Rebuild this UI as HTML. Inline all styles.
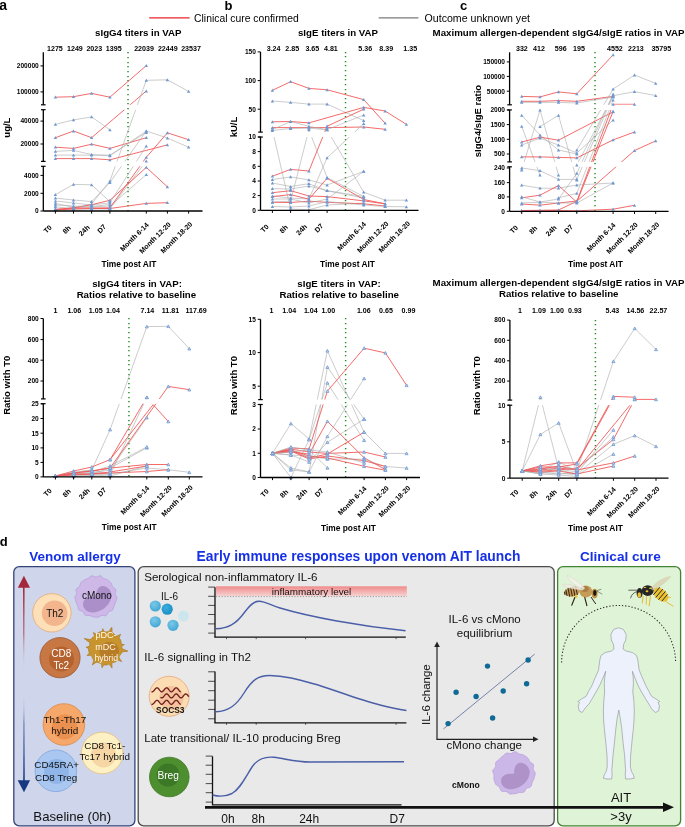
<!DOCTYPE html>
<html><head><meta charset="utf-8"><style>
html,body{margin:0;padding:0;background:#fff;width:685px;height:827px;overflow:hidden}
svg{display:block;will-change:transform}
text{font-family:"Liberation Sans",sans-serif}
</style></head><body>
<svg width="685" height="827" viewBox="0 0 685 827">
<rect width="685" height="827" fill="#fff"/>
<clipPath id="c1"><rect x="41.3" y="32.30" width="169.2" height="72.50"/><rect x="41.3" y="109.70" width="169.2" height="51.70"/><rect x="41.3" y="166.30" width="169.2" height="52.70"/></clipPath>
<path d="M127.30,52.0h1.45v1.3h-1.45zM127.30,57.0h1.45v1.3h-1.45zM127.30,62.0h1.45v1.3h-1.45zM127.30,66.0h1.45v1.3h-1.45zM127.30,71.0h1.45v1.3h-1.45zM127.30,76.0h1.45v1.3h-1.45zM127.30,80.0h1.45v1.3h-1.45zM127.30,85.0h1.45v1.3h-1.45zM127.30,89.0h1.45v1.3h-1.45zM127.30,94.0h1.45v1.3h-1.45zM127.30,99.0h1.45v1.3h-1.45zM127.30,103.0h1.45v1.3h-1.45zM127.30,108.0h1.45v1.3h-1.45zM127.30,113.0h1.45v1.3h-1.45zM127.30,117.0h1.45v1.3h-1.45zM127.30,122.0h1.45v1.3h-1.45zM127.30,126.0h1.45v1.3h-1.45zM127.30,131.0h1.45v1.3h-1.45zM127.30,136.0h1.45v1.3h-1.45zM127.30,140.0h1.45v1.3h-1.45zM127.30,145.0h1.45v1.3h-1.45zM127.30,150.0h1.45v1.3h-1.45zM127.30,154.0h1.45v1.3h-1.45zM127.30,159.0h1.45v1.3h-1.45zM127.30,164.0h1.45v1.3h-1.45zM127.30,168.0h1.45v1.3h-1.45zM127.30,173.0h1.45v1.3h-1.45zM127.30,177.0h1.45v1.3h-1.45zM127.30,182.0h1.45v1.3h-1.45zM127.30,187.0h1.45v1.3h-1.45zM127.30,191.0h1.45v1.3h-1.45zM127.30,196.0h1.45v1.3h-1.45zM127.30,201.0h1.45v1.3h-1.45zM127.30,205.0h1.45v1.3h-1.45zM127.30,210.0h1.45v1.3h-1.45z" fill="#1e8e1e"/>
<g clip-path="url(#c1)" fill="none">
<path d="M55.40,97.20L73.50,96.70L91.60,93.40L109.90,97.20L146.30,65.60" stroke="#f25a5a" stroke-width="0.9"/>
<path d="M55.40,137.70L73.50,131.00L91.60,137.70L146.30,91.00" stroke="#f25a5a" stroke-width="0.9"/>
<path d="M55.40,124.30L73.50,119.90L91.60,116.90L109.90,129.80" stroke="#a9a9a9" stroke-width="0.6"/>
<path d="M55.40,147.20L73.50,148.40L91.60,144.20L109.90,148.40L146.30,137.70" stroke="#f25a5a" stroke-width="0.9"/>
<path d="M55.40,151.40L73.50,150.40L91.60,154.60L109.90,155.80L146.30,131.00L167.40,138.00L188.60,147.20" stroke="#a9a9a9" stroke-width="0.6"/>
<path d="M55.40,155.10L73.50,155.10L91.60,155.10L109.90,155.10L146.30,132.50" stroke="#a9a9a9" stroke-width="0.6"/>
<path d="M55.40,158.60L73.50,158.60L91.60,158.60L109.90,159.80L167.40,144.90" stroke="#f25a5a" stroke-width="0.9"/>
<path d="M55.40,194.70L73.50,184.40L91.60,184.80L109.90,201.60" stroke="#a9a9a9" stroke-width="0.6"/>
<path d="M55.40,198.10L73.50,200.00L91.60,201.60L109.90,182.60L146.30,131.00" stroke="#a9a9a9" stroke-width="0.6"/>
<path d="M55.40,206.90L73.50,208.40L91.60,204.00L109.90,181.00L146.30,80.30L167.40,79.80L188.60,91.40" stroke="#a9a9a9" stroke-width="0.6"/>
<path d="M55.40,201.00L73.50,203.00L91.60,205.00L109.90,202.80L146.30,146.00" stroke="#a9a9a9" stroke-width="0.6"/>
<path d="M55.40,203.40L73.50,207.20L91.60,207.00L109.90,206.00L146.30,174.60" stroke="#a9a9a9" stroke-width="0.6"/>
<path d="M55.40,209.00L73.50,209.00L91.60,209.00L109.90,209.00L146.30,161.00" stroke="#a9a9a9" stroke-width="0.6"/>
<path d="M55.40,209.60L73.50,208.00L91.60,208.00L109.90,207.80L146.30,157.30L167.40,132.80L188.60,139.70" stroke="#f25a5a" stroke-width="0.9"/>
<path d="M55.40,209.60L73.50,207.80L91.60,204.70L109.90,200.30L146.30,167.40L167.40,186.80" stroke="#f25a5a" stroke-width="0.9"/>
<path d="M55.40,210.00L73.50,209.00L91.60,208.50L109.90,208.50L146.30,203.40L167.40,202.70" stroke="#f25a5a" stroke-width="0.9"/>
<path d="M55.40,205.00L73.50,206.00L91.60,206.50L109.90,204.50" stroke="#a9a9a9" stroke-width="0.6"/>
</g>
<path d="M53.70,98.60L55.40,95.60L57.10,98.60Z" fill="#7099d2"/>
<path d="M71.80,98.10L73.50,95.10L75.20,98.10Z" fill="#7099d2"/>
<path d="M89.90,94.80L91.60,91.80L93.30,94.80Z" fill="#7099d2"/>
<path d="M108.20,98.60L109.90,95.60L111.60,98.60Z" fill="#7099d2"/>
<path d="M144.60,67.00L146.30,64.00L148.00,67.00Z" fill="#7099d2"/>
<path d="M53.70,139.10L55.40,136.10L57.10,139.10Z" fill="#7099d2"/>
<path d="M71.80,132.40L73.50,129.40L75.20,132.40Z" fill="#7099d2"/>
<path d="M89.90,139.10L91.60,136.10L93.30,139.10Z" fill="#7099d2"/>
<path d="M144.60,92.40L146.30,89.40L148.00,92.40Z" fill="#7099d2"/>
<path d="M53.70,125.70L55.40,122.70L57.10,125.70Z" fill="#7099d2"/>
<path d="M71.80,121.30L73.50,118.30L75.20,121.30Z" fill="#7099d2"/>
<path d="M89.90,118.30L91.60,115.30L93.30,118.30Z" fill="#7099d2"/>
<path d="M108.20,131.20L109.90,128.20L111.60,131.20Z" fill="#7099d2"/>
<path d="M53.70,148.60L55.40,145.60L57.10,148.60Z" fill="#7099d2"/>
<path d="M71.80,149.80L73.50,146.80L75.20,149.80Z" fill="#7099d2"/>
<path d="M89.90,145.60L91.60,142.60L93.30,145.60Z" fill="#7099d2"/>
<path d="M108.20,149.80L109.90,146.80L111.60,149.80Z" fill="#7099d2"/>
<path d="M144.60,139.10L146.30,136.10L148.00,139.10Z" fill="#7099d2"/>
<path d="M53.70,152.80L55.40,149.80L57.10,152.80Z" fill="#7099d2"/>
<path d="M71.80,151.80L73.50,148.80L75.20,151.80Z" fill="#7099d2"/>
<path d="M89.90,156.00L91.60,153.00L93.30,156.00Z" fill="#7099d2"/>
<path d="M108.20,157.20L109.90,154.20L111.60,157.20Z" fill="#7099d2"/>
<path d="M144.60,132.40L146.30,129.40L148.00,132.40Z" fill="#7099d2"/>
<path d="M165.70,139.40L167.40,136.40L169.10,139.40Z" fill="#7099d2"/>
<path d="M186.90,148.60L188.60,145.60L190.30,148.60Z" fill="#7099d2"/>
<path d="M53.70,156.50L55.40,153.50L57.10,156.50Z" fill="#7099d2"/>
<path d="M71.80,156.50L73.50,153.50L75.20,156.50Z" fill="#7099d2"/>
<path d="M89.90,156.50L91.60,153.50L93.30,156.50Z" fill="#7099d2"/>
<path d="M108.20,156.50L109.90,153.50L111.60,156.50Z" fill="#7099d2"/>
<path d="M144.60,133.90L146.30,130.90L148.00,133.90Z" fill="#7099d2"/>
<path d="M53.70,160.00L55.40,157.00L57.10,160.00Z" fill="#7099d2"/>
<path d="M71.80,160.00L73.50,157.00L75.20,160.00Z" fill="#7099d2"/>
<path d="M89.90,160.00L91.60,157.00L93.30,160.00Z" fill="#7099d2"/>
<path d="M108.20,161.20L109.90,158.20L111.60,161.20Z" fill="#7099d2"/>
<path d="M165.70,146.30L167.40,143.30L169.10,146.30Z" fill="#7099d2"/>
<path d="M53.70,196.10L55.40,193.10L57.10,196.10Z" fill="#7099d2"/>
<path d="M71.80,185.80L73.50,182.80L75.20,185.80Z" fill="#7099d2"/>
<path d="M89.90,186.20L91.60,183.20L93.30,186.20Z" fill="#7099d2"/>
<path d="M108.20,203.00L109.90,200.00L111.60,203.00Z" fill="#7099d2"/>
<path d="M53.70,199.50L55.40,196.50L57.10,199.50Z" fill="#7099d2"/>
<path d="M71.80,201.40L73.50,198.40L75.20,201.40Z" fill="#7099d2"/>
<path d="M89.90,203.00L91.60,200.00L93.30,203.00Z" fill="#7099d2"/>
<path d="M108.20,184.00L109.90,181.00L111.60,184.00Z" fill="#7099d2"/>
<path d="M144.60,132.40L146.30,129.40L148.00,132.40Z" fill="#7099d2"/>
<path d="M53.70,208.30L55.40,205.30L57.10,208.30Z" fill="#7099d2"/>
<path d="M71.80,209.80L73.50,206.80L75.20,209.80Z" fill="#7099d2"/>
<path d="M89.90,205.40L91.60,202.40L93.30,205.40Z" fill="#7099d2"/>
<path d="M108.20,182.40L109.90,179.40L111.60,182.40Z" fill="#7099d2"/>
<path d="M144.60,81.70L146.30,78.70L148.00,81.70Z" fill="#7099d2"/>
<path d="M165.70,81.20L167.40,78.20L169.10,81.20Z" fill="#7099d2"/>
<path d="M186.90,92.80L188.60,89.80L190.30,92.80Z" fill="#7099d2"/>
<path d="M53.70,202.40L55.40,199.40L57.10,202.40Z" fill="#7099d2"/>
<path d="M71.80,204.40L73.50,201.40L75.20,204.40Z" fill="#7099d2"/>
<path d="M89.90,206.40L91.60,203.40L93.30,206.40Z" fill="#7099d2"/>
<path d="M108.20,204.20L109.90,201.20L111.60,204.20Z" fill="#7099d2"/>
<path d="M144.60,147.40L146.30,144.40L148.00,147.40Z" fill="#7099d2"/>
<path d="M53.70,204.80L55.40,201.80L57.10,204.80Z" fill="#7099d2"/>
<path d="M71.80,208.60L73.50,205.60L75.20,208.60Z" fill="#7099d2"/>
<path d="M89.90,208.40L91.60,205.40L93.30,208.40Z" fill="#7099d2"/>
<path d="M108.20,207.40L109.90,204.40L111.60,207.40Z" fill="#7099d2"/>
<path d="M144.60,176.00L146.30,173.00L148.00,176.00Z" fill="#7099d2"/>
<path d="M53.70,210.40L55.40,207.40L57.10,210.40Z" fill="#7099d2"/>
<path d="M71.80,210.40L73.50,207.40L75.20,210.40Z" fill="#7099d2"/>
<path d="M89.90,210.40L91.60,207.40L93.30,210.40Z" fill="#7099d2"/>
<path d="M108.20,210.40L109.90,207.40L111.60,210.40Z" fill="#7099d2"/>
<path d="M144.60,162.40L146.30,159.40L148.00,162.40Z" fill="#7099d2"/>
<path d="M53.70,211.00L55.40,208.00L57.10,211.00Z" fill="#7099d2"/>
<path d="M71.80,209.40L73.50,206.40L75.20,209.40Z" fill="#7099d2"/>
<path d="M89.90,209.40L91.60,206.40L93.30,209.40Z" fill="#7099d2"/>
<path d="M108.20,209.20L109.90,206.20L111.60,209.20Z" fill="#7099d2"/>
<path d="M144.60,158.70L146.30,155.70L148.00,158.70Z" fill="#7099d2"/>
<path d="M165.70,134.20L167.40,131.20L169.10,134.20Z" fill="#7099d2"/>
<path d="M186.90,141.10L188.60,138.10L190.30,141.10Z" fill="#7099d2"/>
<path d="M53.70,211.00L55.40,208.00L57.10,211.00Z" fill="#7099d2"/>
<path d="M71.80,209.20L73.50,206.20L75.20,209.20Z" fill="#7099d2"/>
<path d="M89.90,206.10L91.60,203.10L93.30,206.10Z" fill="#7099d2"/>
<path d="M108.20,201.70L109.90,198.70L111.60,201.70Z" fill="#7099d2"/>
<path d="M144.60,168.80L146.30,165.80L148.00,168.80Z" fill="#7099d2"/>
<path d="M165.70,188.20L167.40,185.20L169.10,188.20Z" fill="#7099d2"/>
<path d="M53.70,211.40L55.40,208.40L57.10,211.40Z" fill="#7099d2"/>
<path d="M71.80,210.40L73.50,207.40L75.20,210.40Z" fill="#7099d2"/>
<path d="M89.90,209.90L91.60,206.90L93.30,209.90Z" fill="#7099d2"/>
<path d="M108.20,209.90L109.90,206.90L111.60,209.90Z" fill="#7099d2"/>
<path d="M144.60,204.80L146.30,201.80L148.00,204.80Z" fill="#7099d2"/>
<path d="M165.70,204.10L167.40,201.10L169.10,204.10Z" fill="#7099d2"/>
<path d="M53.70,206.40L55.40,203.40L57.10,206.40Z" fill="#7099d2"/>
<path d="M71.80,207.40L73.50,204.40L75.20,207.40Z" fill="#7099d2"/>
<path d="M89.90,207.90L91.60,204.90L93.30,207.90Z" fill="#7099d2"/>
<path d="M108.20,205.90L109.90,202.90L111.60,205.90Z" fill="#7099d2"/>
<line x1="43.3" y1="52.3" x2="43.3" y2="104.8" stroke="#000" stroke-width="1.3"/>
<line x1="43.3" y1="109.7" x2="43.3" y2="161.4" stroke="#000" stroke-width="1.3"/>
<line x1="43.3" y1="166.3" x2="43.3" y2="211" stroke="#000" stroke-width="1.3"/>
<line x1="41.0" y1="104.8" x2="45.599999999999994" y2="104.8" stroke="#000" stroke-width="1.2"/>
<line x1="41.0" y1="109.7" x2="45.599999999999994" y2="109.7" stroke="#000" stroke-width="1.2"/>
<line x1="41.0" y1="161.4" x2="45.599999999999994" y2="161.4" stroke="#000" stroke-width="1.2"/>
<line x1="41.0" y1="166.3" x2="45.599999999999994" y2="166.3" stroke="#000" stroke-width="1.2"/>
<line x1="43.3" y1="211" x2="202.5" y2="211" stroke="#000" stroke-width="1.3"/>
<line x1="55.4" y1="211" x2="55.4" y2="213.6" stroke="#000" stroke-width="1"/>
<line x1="73.5" y1="211" x2="73.5" y2="213.6" stroke="#000" stroke-width="1"/>
<line x1="91.6" y1="211" x2="91.6" y2="213.6" stroke="#000" stroke-width="1"/>
<line x1="109.9" y1="211" x2="109.9" y2="213.6" stroke="#000" stroke-width="1"/>
<line x1="146.3" y1="211" x2="146.3" y2="213.6" stroke="#000" stroke-width="1"/>
<line x1="167.4" y1="211" x2="167.4" y2="213.6" stroke="#000" stroke-width="1"/>
<line x1="188.6" y1="211" x2="188.6" y2="213.6" stroke="#000" stroke-width="1"/>
<line x1="40.5" y1="65.9" x2="43.3" y2="65.9" stroke="#000" stroke-width="1"/>
<text x="38.70" y="68.20" font-size="6.55" font-weight="bold" text-anchor="end" fill="#000" >200000</text>
<line x1="40.5" y1="91.9" x2="43.3" y2="91.9" stroke="#000" stroke-width="1"/>
<text x="38.70" y="94.20" font-size="6.55" font-weight="bold" text-anchor="end" fill="#000" >100000</text>
<line x1="40.5" y1="121.1" x2="43.3" y2="121.1" stroke="#000" stroke-width="1"/>
<text x="38.70" y="123.40" font-size="6.55" font-weight="bold" text-anchor="end" fill="#000" >40000</text>
<line x1="40.5" y1="144" x2="43.3" y2="144" stroke="#000" stroke-width="1"/>
<text x="38.70" y="146.30" font-size="6.55" font-weight="bold" text-anchor="end" fill="#000" >20000</text>
<line x1="40.5" y1="175.4" x2="43.3" y2="175.4" stroke="#000" stroke-width="1"/>
<text x="38.70" y="177.70" font-size="6.55" font-weight="bold" text-anchor="end" fill="#000" >4000</text>
<line x1="40.5" y1="193.3" x2="43.3" y2="193.3" stroke="#000" stroke-width="1"/>
<text x="38.70" y="195.60" font-size="6.55" font-weight="bold" text-anchor="end" fill="#000" >2000</text>
<line x1="40.5" y1="211" x2="43.3" y2="211" stroke="#000" stroke-width="1"/>
<text x="38.70" y="213.30" font-size="6.55" font-weight="bold" text-anchor="end" fill="#000" >0</text>
<text x="52.30" y="227.90" font-size="7.05" font-weight="bold" text-anchor="end" fill="#000" transform="rotate(-45 52.30 227.90)">T0</text>
<text x="71.30" y="228.50" font-size="7.05" font-weight="bold" text-anchor="end" fill="#000" transform="rotate(-45 71.30 228.50)">8h</text>
<text x="90.20" y="227.90" font-size="7.05" font-weight="bold" text-anchor="end" fill="#000" transform="rotate(-45 90.20 227.90)">24h</text>
<text x="106.60" y="227.30" font-size="7.05" font-weight="bold" text-anchor="end" fill="#000" transform="rotate(-45 106.60 227.30)">D7</text>
<text x="149.20" y="225.40" font-size="7.05" font-weight="bold" text-anchor="end" fill="#000" transform="rotate(-45 149.20 225.40)">Month 6-14</text>
<text x="171.30" y="224.90" font-size="7.05" font-weight="bold" text-anchor="end" fill="#000" transform="rotate(-45 171.30 224.90)">Month 12-20</text>
<text x="192.70" y="224.60" font-size="7.05" font-weight="bold" text-anchor="end" fill="#000" transform="rotate(-45 192.70 224.60)">Month 18-20</text>
<text x="54.90" y="50.70" font-size="7.1" font-weight="bold" text-anchor="middle" fill="#000" >1275</text>
<text x="74.90" y="50.70" font-size="7.1" font-weight="bold" text-anchor="middle" fill="#000" >1249</text>
<text x="94.30" y="50.70" font-size="7.1" font-weight="bold" text-anchor="middle" fill="#000" >2023</text>
<text x="113.70" y="50.70" font-size="7.1" font-weight="bold" text-anchor="middle" fill="#000" >1395</text>
<text x="144.00" y="50.70" font-size="7.1" font-weight="bold" text-anchor="middle" fill="#000" >22039</text>
<text x="167.80" y="50.70" font-size="7.1" font-weight="bold" text-anchor="middle" fill="#000" >22449</text>
<text x="191.00" y="50.70" font-size="7.1" font-weight="bold" text-anchor="middle" fill="#000" >23537</text>
<text x="138.30" y="36.10" font-size="9.7" font-weight="bold" text-anchor="middle" fill="#000" >sIgG4 titers in VAP</text>
<text x="128.90" y="267.00" font-size="8.4" font-weight="bold" text-anchor="middle" fill="#000" >Time post AIT</text>
<text x="10.50" y="127.60" font-size="9.5" font-weight="bold" text-anchor="middle" fill="#000" transform="rotate(-90 10.5 127.6)">ug/L</text>
<clipPath id="c2"><rect x="258.5" y="31.90" width="168.0" height="100.20"/><rect x="258.5" y="137.00" width="168.0" height="81.30"/></clipPath>
<path d="M344.80,52.0h1.45v1.3h-1.45zM344.80,56.0h1.45v1.3h-1.45zM344.80,61.0h1.45v1.3h-1.45zM344.80,65.0h1.45v1.3h-1.45zM344.80,70.0h1.45v1.3h-1.45zM344.80,75.0h1.45v1.3h-1.45zM344.80,79.0h1.45v1.3h-1.45zM344.80,84.0h1.45v1.3h-1.45zM344.80,89.0h1.45v1.3h-1.45zM344.80,93.0h1.45v1.3h-1.45zM344.80,98.0h1.45v1.3h-1.45zM344.80,102.0h1.45v1.3h-1.45zM344.80,107.0h1.45v1.3h-1.45zM344.80,112.0h1.45v1.3h-1.45zM344.80,116.0h1.45v1.3h-1.45zM344.80,121.0h1.45v1.3h-1.45zM344.80,126.0h1.45v1.3h-1.45zM344.80,130.0h1.45v1.3h-1.45zM344.80,135.0h1.45v1.3h-1.45zM344.80,139.0h1.45v1.3h-1.45zM344.80,144.0h1.45v1.3h-1.45zM344.80,149.0h1.45v1.3h-1.45zM344.80,153.0h1.45v1.3h-1.45zM344.80,158.0h1.45v1.3h-1.45zM344.80,163.0h1.45v1.3h-1.45zM344.80,167.0h1.45v1.3h-1.45zM344.80,172.0h1.45v1.3h-1.45zM344.80,177.0h1.45v1.3h-1.45zM344.80,181.0h1.45v1.3h-1.45zM344.80,186.0h1.45v1.3h-1.45zM344.80,190.0h1.45v1.3h-1.45zM344.80,195.0h1.45v1.3h-1.45zM344.80,200.0h1.45v1.3h-1.45zM344.80,204.0h1.45v1.3h-1.45zM344.80,209.0h1.45v1.3h-1.45z" fill="#1e8e1e"/>
<g clip-path="url(#c2)" fill="none">
<path d="M272.40,90.30L290.60,81.70L308.90,88.40L327.10,89.80L363.70,99.60L385.10,123.20" stroke="#f25a5a" stroke-width="0.9"/>
<path d="M272.40,101.00L290.60,102.40L308.90,104.10L327.10,104.10L363.70,120.60" stroke="#a9a9a9" stroke-width="0.6"/>
<path d="M272.40,121.80L290.60,121.50L308.90,122.90L363.70,107.40L385.10,111.00L406.40,124.40" stroke="#f25a5a" stroke-width="0.9"/>
<path d="M272.40,127.60L290.60,127.60L308.90,127.60L327.10,127.60L363.70,127.00L385.10,129.30" stroke="#f25a5a" stroke-width="0.9"/>
<path d="M272.40,129.70L290.60,121.50L308.90,126.40L327.10,129.70L363.70,115.00" stroke="#a9a9a9" stroke-width="0.6"/>
<path d="M272.40,176.20L290.60,169.40L308.90,171.00L327.10,126.20L363.70,109.20" stroke="#f25a5a" stroke-width="0.9"/>
<path d="M272.40,179.50L290.60,176.90L308.90,179.90L327.10,185.00L363.70,171.40" stroke="#a9a9a9" stroke-width="0.6"/>
<path d="M272.40,129.70L290.60,209.10L308.90,209.70L327.10,205.00L363.70,203.00" stroke="#a9a9a9" stroke-width="0.6"/>
<path d="M272.40,202.00L290.60,201.20L308.90,129.70L327.10,177.60L363.70,196.50" stroke="#a9a9a9" stroke-width="0.6"/>
<path d="M272.40,130.50L290.60,128.50L308.90,128.00L327.10,129.90L363.70,192.20L385.10,200.20L406.40,200.20" stroke="#a9a9a9" stroke-width="0.6"/>
<path d="M272.40,188.70L290.60,189.00L308.90,186.00L327.10,190.70L363.70,198.00" stroke="#a9a9a9" stroke-width="0.6"/>
<path d="M272.40,196.00L290.60,198.00L308.90,199.00L327.10,157.80L363.70,123.70" stroke="#a9a9a9" stroke-width="0.6"/>
<path d="M272.40,192.70L290.60,190.70L308.90,196.00L327.10,196.60L363.70,200.90L385.10,203.80" stroke="#f25a5a" stroke-width="0.9"/>
<path d="M272.40,196.60L290.60,194.60L308.90,199.20L327.10,178.30L363.70,199.50L385.10,203.80" stroke="#f25a5a" stroke-width="0.9"/>
<path d="M272.40,202.30L290.60,202.50L308.90,201.20L327.10,202.30L363.70,203.80L385.10,206.00" stroke="#f25a5a" stroke-width="0.9"/>
<path d="M272.40,206.50L290.60,207.00L308.90,206.00L327.10,201.60L363.70,205.00L385.10,206.50L406.40,206.80" stroke="#a9a9a9" stroke-width="0.6"/>
<path d="M272.40,199.00L290.60,199.00L308.90,203.00L327.10,199.00L363.70,171.40" stroke="#a9a9a9" stroke-width="0.6"/>
<path d="M272.40,183.00L290.60,186.50L308.90,183.70L327.10,190.70L363.70,196.50" stroke="#a9a9a9" stroke-width="0.6"/>
</g>
<path d="M270.70,91.70L272.40,88.70L274.10,91.70Z" fill="#7099d2"/>
<path d="M288.90,83.10L290.60,80.10L292.30,83.10Z" fill="#7099d2"/>
<path d="M307.20,89.80L308.90,86.80L310.60,89.80Z" fill="#7099d2"/>
<path d="M325.40,91.20L327.10,88.20L328.80,91.20Z" fill="#7099d2"/>
<path d="M362.00,101.00L363.70,98.00L365.40,101.00Z" fill="#7099d2"/>
<path d="M383.40,124.60L385.10,121.60L386.80,124.60Z" fill="#7099d2"/>
<path d="M270.70,102.40L272.40,99.40L274.10,102.40Z" fill="#7099d2"/>
<path d="M288.90,103.80L290.60,100.80L292.30,103.80Z" fill="#7099d2"/>
<path d="M307.20,105.50L308.90,102.50L310.60,105.50Z" fill="#7099d2"/>
<path d="M325.40,105.50L327.10,102.50L328.80,105.50Z" fill="#7099d2"/>
<path d="M362.00,122.00L363.70,119.00L365.40,122.00Z" fill="#7099d2"/>
<path d="M270.70,123.20L272.40,120.20L274.10,123.20Z" fill="#7099d2"/>
<path d="M288.90,122.90L290.60,119.90L292.30,122.90Z" fill="#7099d2"/>
<path d="M307.20,124.30L308.90,121.30L310.60,124.30Z" fill="#7099d2"/>
<path d="M362.00,108.80L363.70,105.80L365.40,108.80Z" fill="#7099d2"/>
<path d="M383.40,112.40L385.10,109.40L386.80,112.40Z" fill="#7099d2"/>
<path d="M404.70,125.80L406.40,122.80L408.10,125.80Z" fill="#7099d2"/>
<path d="M270.70,129.00L272.40,126.00L274.10,129.00Z" fill="#7099d2"/>
<path d="M288.90,129.00L290.60,126.00L292.30,129.00Z" fill="#7099d2"/>
<path d="M307.20,129.00L308.90,126.00L310.60,129.00Z" fill="#7099d2"/>
<path d="M325.40,129.00L327.10,126.00L328.80,129.00Z" fill="#7099d2"/>
<path d="M362.00,128.40L363.70,125.40L365.40,128.40Z" fill="#7099d2"/>
<path d="M383.40,130.70L385.10,127.70L386.80,130.70Z" fill="#7099d2"/>
<path d="M270.70,131.10L272.40,128.10L274.10,131.10Z" fill="#7099d2"/>
<path d="M288.90,122.90L290.60,119.90L292.30,122.90Z" fill="#7099d2"/>
<path d="M307.20,127.80L308.90,124.80L310.60,127.80Z" fill="#7099d2"/>
<path d="M325.40,131.10L327.10,128.10L328.80,131.10Z" fill="#7099d2"/>
<path d="M362.00,116.40L363.70,113.40L365.40,116.40Z" fill="#7099d2"/>
<path d="M270.70,177.60L272.40,174.60L274.10,177.60Z" fill="#7099d2"/>
<path d="M288.90,170.80L290.60,167.80L292.30,170.80Z" fill="#7099d2"/>
<path d="M307.20,172.40L308.90,169.40L310.60,172.40Z" fill="#7099d2"/>
<path d="M325.40,127.60L327.10,124.60L328.80,127.60Z" fill="#7099d2"/>
<path d="M362.00,110.60L363.70,107.60L365.40,110.60Z" fill="#7099d2"/>
<path d="M270.70,180.90L272.40,177.90L274.10,180.90Z" fill="#7099d2"/>
<path d="M288.90,178.30L290.60,175.30L292.30,178.30Z" fill="#7099d2"/>
<path d="M307.20,181.30L308.90,178.30L310.60,181.30Z" fill="#7099d2"/>
<path d="M325.40,186.40L327.10,183.40L328.80,186.40Z" fill="#7099d2"/>
<path d="M362.00,172.80L363.70,169.80L365.40,172.80Z" fill="#7099d2"/>
<path d="M270.70,131.10L272.40,128.10L274.10,131.10Z" fill="#7099d2"/>
<path d="M288.90,210.50L290.60,207.50L292.30,210.50Z" fill="#7099d2"/>
<path d="M307.20,211.10L308.90,208.10L310.60,211.10Z" fill="#7099d2"/>
<path d="M325.40,206.40L327.10,203.40L328.80,206.40Z" fill="#7099d2"/>
<path d="M362.00,204.40L363.70,201.40L365.40,204.40Z" fill="#7099d2"/>
<path d="M270.70,203.40L272.40,200.40L274.10,203.40Z" fill="#7099d2"/>
<path d="M288.90,202.60L290.60,199.60L292.30,202.60Z" fill="#7099d2"/>
<path d="M307.20,131.10L308.90,128.10L310.60,131.10Z" fill="#7099d2"/>
<path d="M325.40,179.00L327.10,176.00L328.80,179.00Z" fill="#7099d2"/>
<path d="M362.00,197.90L363.70,194.90L365.40,197.90Z" fill="#7099d2"/>
<path d="M270.70,131.90L272.40,128.90L274.10,131.90Z" fill="#7099d2"/>
<path d="M288.90,129.90L290.60,126.90L292.30,129.90Z" fill="#7099d2"/>
<path d="M307.20,129.40L308.90,126.40L310.60,129.40Z" fill="#7099d2"/>
<path d="M325.40,131.30L327.10,128.30L328.80,131.30Z" fill="#7099d2"/>
<path d="M362.00,193.60L363.70,190.60L365.40,193.60Z" fill="#7099d2"/>
<path d="M383.40,201.60L385.10,198.60L386.80,201.60Z" fill="#7099d2"/>
<path d="M404.70,201.60L406.40,198.60L408.10,201.60Z" fill="#7099d2"/>
<path d="M270.70,190.10L272.40,187.10L274.10,190.10Z" fill="#7099d2"/>
<path d="M288.90,190.40L290.60,187.40L292.30,190.40Z" fill="#7099d2"/>
<path d="M307.20,187.40L308.90,184.40L310.60,187.40Z" fill="#7099d2"/>
<path d="M325.40,192.10L327.10,189.10L328.80,192.10Z" fill="#7099d2"/>
<path d="M362.00,199.40L363.70,196.40L365.40,199.40Z" fill="#7099d2"/>
<path d="M270.70,197.40L272.40,194.40L274.10,197.40Z" fill="#7099d2"/>
<path d="M288.90,199.40L290.60,196.40L292.30,199.40Z" fill="#7099d2"/>
<path d="M307.20,200.40L308.90,197.40L310.60,200.40Z" fill="#7099d2"/>
<path d="M325.40,159.20L327.10,156.20L328.80,159.20Z" fill="#7099d2"/>
<path d="M362.00,125.10L363.70,122.10L365.40,125.10Z" fill="#7099d2"/>
<path d="M270.70,194.10L272.40,191.10L274.10,194.10Z" fill="#7099d2"/>
<path d="M288.90,192.10L290.60,189.10L292.30,192.10Z" fill="#7099d2"/>
<path d="M307.20,197.40L308.90,194.40L310.60,197.40Z" fill="#7099d2"/>
<path d="M325.40,198.00L327.10,195.00L328.80,198.00Z" fill="#7099d2"/>
<path d="M362.00,202.30L363.70,199.30L365.40,202.30Z" fill="#7099d2"/>
<path d="M383.40,205.20L385.10,202.20L386.80,205.20Z" fill="#7099d2"/>
<path d="M270.70,198.00L272.40,195.00L274.10,198.00Z" fill="#7099d2"/>
<path d="M288.90,196.00L290.60,193.00L292.30,196.00Z" fill="#7099d2"/>
<path d="M307.20,200.60L308.90,197.60L310.60,200.60Z" fill="#7099d2"/>
<path d="M325.40,179.70L327.10,176.70L328.80,179.70Z" fill="#7099d2"/>
<path d="M362.00,200.90L363.70,197.90L365.40,200.90Z" fill="#7099d2"/>
<path d="M383.40,205.20L385.10,202.20L386.80,205.20Z" fill="#7099d2"/>
<path d="M270.70,203.70L272.40,200.70L274.10,203.70Z" fill="#7099d2"/>
<path d="M288.90,203.90L290.60,200.90L292.30,203.90Z" fill="#7099d2"/>
<path d="M307.20,202.60L308.90,199.60L310.60,202.60Z" fill="#7099d2"/>
<path d="M325.40,203.70L327.10,200.70L328.80,203.70Z" fill="#7099d2"/>
<path d="M362.00,205.20L363.70,202.20L365.40,205.20Z" fill="#7099d2"/>
<path d="M383.40,207.40L385.10,204.40L386.80,207.40Z" fill="#7099d2"/>
<path d="M270.70,207.90L272.40,204.90L274.10,207.90Z" fill="#7099d2"/>
<path d="M288.90,208.40L290.60,205.40L292.30,208.40Z" fill="#7099d2"/>
<path d="M307.20,207.40L308.90,204.40L310.60,207.40Z" fill="#7099d2"/>
<path d="M325.40,203.00L327.10,200.00L328.80,203.00Z" fill="#7099d2"/>
<path d="M362.00,206.40L363.70,203.40L365.40,206.40Z" fill="#7099d2"/>
<path d="M383.40,207.90L385.10,204.90L386.80,207.90Z" fill="#7099d2"/>
<path d="M404.70,208.20L406.40,205.20L408.10,208.20Z" fill="#7099d2"/>
<path d="M270.70,200.40L272.40,197.40L274.10,200.40Z" fill="#7099d2"/>
<path d="M288.90,200.40L290.60,197.40L292.30,200.40Z" fill="#7099d2"/>
<path d="M307.20,204.40L308.90,201.40L310.60,204.40Z" fill="#7099d2"/>
<path d="M325.40,200.40L327.10,197.40L328.80,200.40Z" fill="#7099d2"/>
<path d="M362.00,172.80L363.70,169.80L365.40,172.80Z" fill="#7099d2"/>
<path d="M270.70,184.40L272.40,181.40L274.10,184.40Z" fill="#7099d2"/>
<path d="M288.90,187.90L290.60,184.90L292.30,187.90Z" fill="#7099d2"/>
<path d="M307.20,185.10L308.90,182.10L310.60,185.10Z" fill="#7099d2"/>
<path d="M325.40,192.10L327.10,189.10L328.80,192.10Z" fill="#7099d2"/>
<path d="M362.00,197.90L363.70,194.90L365.40,197.90Z" fill="#7099d2"/>
<line x1="260.5" y1="51.9" x2="260.5" y2="132.1" stroke="#000" stroke-width="1.3"/>
<line x1="260.5" y1="137" x2="260.5" y2="210.3" stroke="#000" stroke-width="1.3"/>
<line x1="258.2" y1="132.1" x2="262.8" y2="132.1" stroke="#000" stroke-width="1.2"/>
<line x1="258.2" y1="137" x2="262.8" y2="137" stroke="#000" stroke-width="1.2"/>
<line x1="260.5" y1="210.3" x2="418.5" y2="210.3" stroke="#000" stroke-width="1.3"/>
<line x1="272.4" y1="210.3" x2="272.4" y2="212.9" stroke="#000" stroke-width="1"/>
<line x1="290.6" y1="210.3" x2="290.6" y2="212.9" stroke="#000" stroke-width="1"/>
<line x1="308.9" y1="210.3" x2="308.9" y2="212.9" stroke="#000" stroke-width="1"/>
<line x1="327.1" y1="210.3" x2="327.1" y2="212.9" stroke="#000" stroke-width="1"/>
<line x1="363.7" y1="210.3" x2="363.7" y2="212.9" stroke="#000" stroke-width="1"/>
<line x1="385.1" y1="210.3" x2="385.1" y2="212.9" stroke="#000" stroke-width="1"/>
<line x1="406.4" y1="210.3" x2="406.4" y2="212.9" stroke="#000" stroke-width="1"/>
<line x1="257.7" y1="51.9" x2="260.5" y2="51.9" stroke="#000" stroke-width="1"/>
<text x="255.90" y="54.20" font-size="6.55" font-weight="bold" text-anchor="end" fill="#000" >150</text>
<line x1="257.7" y1="80.6" x2="260.5" y2="80.6" stroke="#000" stroke-width="1"/>
<text x="255.90" y="82.90" font-size="6.55" font-weight="bold" text-anchor="end" fill="#000" >100</text>
<line x1="257.7" y1="109.2" x2="260.5" y2="109.2" stroke="#000" stroke-width="1"/>
<text x="255.90" y="111.50" font-size="6.55" font-weight="bold" text-anchor="end" fill="#000" >50</text>
<line x1="257.7" y1="137" x2="260.5" y2="137" stroke="#000" stroke-width="1"/>
<text x="255.90" y="139.30" font-size="6.55" font-weight="bold" text-anchor="end" fill="#000" >10</text>
<line x1="257.7" y1="151.6" x2="260.5" y2="151.6" stroke="#000" stroke-width="1"/>
<text x="255.90" y="153.90" font-size="6.55" font-weight="bold" text-anchor="end" fill="#000" >8</text>
<line x1="257.7" y1="166.3" x2="260.5" y2="166.3" stroke="#000" stroke-width="1"/>
<text x="255.90" y="168.60" font-size="6.55" font-weight="bold" text-anchor="end" fill="#000" >6</text>
<line x1="257.7" y1="181" x2="260.5" y2="181" stroke="#000" stroke-width="1"/>
<text x="255.90" y="183.30" font-size="6.55" font-weight="bold" text-anchor="end" fill="#000" >4</text>
<line x1="257.7" y1="195.6" x2="260.5" y2="195.6" stroke="#000" stroke-width="1"/>
<text x="255.90" y="197.90" font-size="6.55" font-weight="bold" text-anchor="end" fill="#000" >2</text>
<line x1="257.7" y1="210.3" x2="260.5" y2="210.3" stroke="#000" stroke-width="1"/>
<text x="255.90" y="212.60" font-size="6.55" font-weight="bold" text-anchor="end" fill="#000" >0</text>
<text x="269.30" y="227.20" font-size="7.05" font-weight="bold" text-anchor="end" fill="#000" transform="rotate(-45 269.30 227.20)">T0</text>
<text x="288.40" y="227.80" font-size="7.05" font-weight="bold" text-anchor="end" fill="#000" transform="rotate(-45 288.40 227.80)">8h</text>
<text x="307.50" y="227.20" font-size="7.05" font-weight="bold" text-anchor="end" fill="#000" transform="rotate(-45 307.50 227.20)">24h</text>
<text x="323.80" y="226.60" font-size="7.05" font-weight="bold" text-anchor="end" fill="#000" transform="rotate(-45 323.80 226.60)">D7</text>
<text x="366.60" y="224.70" font-size="7.05" font-weight="bold" text-anchor="end" fill="#000" transform="rotate(-45 366.60 224.70)">Month 6-14</text>
<text x="389.00" y="224.20" font-size="7.05" font-weight="bold" text-anchor="end" fill="#000" transform="rotate(-45 389.00 224.20)">Month 12-20</text>
<text x="410.50" y="223.90" font-size="7.05" font-weight="bold" text-anchor="end" fill="#000" transform="rotate(-45 410.50 223.90)">Month 18-20</text>
<text x="273.60" y="50.90" font-size="7.1" font-weight="bold" text-anchor="middle" fill="#000" >3.24</text>
<text x="292.20" y="50.90" font-size="7.1" font-weight="bold" text-anchor="middle" fill="#000" >2.85</text>
<text x="312.30" y="50.90" font-size="7.1" font-weight="bold" text-anchor="middle" fill="#000" >3.65</text>
<text x="330.90" y="50.90" font-size="7.1" font-weight="bold" text-anchor="middle" fill="#000" >4.81</text>
<text x="365.20" y="50.90" font-size="7.1" font-weight="bold" text-anchor="middle" fill="#000" >5.36</text>
<text x="386.20" y="50.90" font-size="7.1" font-weight="bold" text-anchor="middle" fill="#000" >8.39</text>
<text x="410.20" y="50.90" font-size="7.1" font-weight="bold" text-anchor="middle" fill="#000" >1.35</text>
<text x="338.00" y="35.90" font-size="9.7" font-weight="bold" text-anchor="middle" fill="#000" >sIgE titers in VAP</text>
<text x="347.50" y="267.00" font-size="8.4" font-weight="bold" text-anchor="middle" fill="#000" >Time post AIT</text>
<text x="236.50" y="127.00" font-size="9.5" font-weight="bold" text-anchor="middle" fill="#000" transform="rotate(-90 236.5 127)">kU/L</text>
<clipPath id="c3"><rect x="507.6" y="32.30" width="169.0" height="72.50"/><rect x="507.6" y="109.90" width="169.0" height="52.00"/><rect x="507.6" y="166.80" width="169.0" height="52.50"/></clipPath>
<path d="M594.30,52.0h1.45v1.3h-1.45zM594.30,57.0h1.45v1.3h-1.45zM594.30,62.0h1.45v1.3h-1.45zM594.30,66.0h1.45v1.3h-1.45zM594.30,71.0h1.45v1.3h-1.45zM594.30,75.0h1.45v1.3h-1.45zM594.30,80.0h1.45v1.3h-1.45zM594.30,85.0h1.45v1.3h-1.45zM594.30,89.0h1.45v1.3h-1.45zM594.30,94.0h1.45v1.3h-1.45zM594.30,99.0h1.45v1.3h-1.45zM594.30,103.0h1.45v1.3h-1.45zM594.30,108.0h1.45v1.3h-1.45zM594.30,112.0h1.45v1.3h-1.45zM594.30,117.0h1.45v1.3h-1.45zM594.30,122.0h1.45v1.3h-1.45zM594.30,126.0h1.45v1.3h-1.45zM594.30,131.0h1.45v1.3h-1.45zM594.30,136.0h1.45v1.3h-1.45zM594.30,140.0h1.45v1.3h-1.45zM594.30,145.0h1.45v1.3h-1.45zM594.30,150.0h1.45v1.3h-1.45zM594.30,154.0h1.45v1.3h-1.45zM594.30,159.0h1.45v1.3h-1.45zM594.30,163.0h1.45v1.3h-1.45zM594.30,168.0h1.45v1.3h-1.45zM594.30,173.0h1.45v1.3h-1.45zM594.30,177.0h1.45v1.3h-1.45zM594.30,182.0h1.45v1.3h-1.45zM594.30,187.0h1.45v1.3h-1.45zM594.30,191.0h1.45v1.3h-1.45zM594.30,196.0h1.45v1.3h-1.45zM594.30,200.0h1.45v1.3h-1.45zM594.30,205.0h1.45v1.3h-1.45zM594.30,210.0h1.45v1.3h-1.45z" fill="#1e8e1e"/>
<g clip-path="url(#c3)" fill="none">
<path d="M521.70,96.40L540.00,96.90L558.50,91.90L576.80,93.80L613.10,54.90" stroke="#f25a5a" stroke-width="0.9"/>
<path d="M521.70,101.30L540.00,101.30L558.50,100.60L576.80,101.30L613.10,96.40" stroke="#f25a5a" stroke-width="0.9"/>
<path d="M521.70,102.40L540.00,102.40L558.50,102.40L576.80,103.00L613.10,97.00" stroke="#a9a9a9" stroke-width="0.6"/>
<path d="M576.80,150.00L613.10,89.10L634.50,75.00L655.70,83.40" stroke="#a9a9a9" stroke-width="0.6"/>
<path d="M576.80,165.00L613.10,95.70L634.50,91.70L655.70,95.50" stroke="#a9a9a9" stroke-width="0.6"/>
<path d="M521.70,210.50L540.00,210.30L558.50,210.00L576.80,201.30L613.10,104.30L634.50,104.30" stroke="#f25a5a" stroke-width="0.9"/>
<path d="M521.70,115.30L540.00,135.00L558.50,150.00L576.80,154.00" stroke="#a9a9a9" stroke-width="0.6"/>
<path d="M521.70,126.40L540.00,175.00" stroke="#a9a9a9" stroke-width="0.6"/>
<path d="M521.70,170.00L540.00,110.00L558.50,175.00" stroke="#a9a9a9" stroke-width="0.6"/>
<path d="M540.00,126.70L558.50,115.30L576.80,180.00" stroke="#a9a9a9" stroke-width="0.6"/>
<path d="M521.70,142.00L540.00,137.20L558.50,140.20L613.10,111.80" stroke="#f25a5a" stroke-width="0.9"/>
<path d="M521.70,145.10L540.00,138.10L558.50,145.10L576.80,153.00L613.10,120.10" stroke="#a9a9a9" stroke-width="0.6"/>
<path d="M521.70,156.90L540.00,156.90L558.50,157.40L576.80,157.90L613.10,139.90L634.50,132.00" stroke="#f25a5a" stroke-width="0.9"/>
<path d="M576.80,201.30L634.50,150.50L655.70,140.90" stroke="#f25a5a" stroke-width="0.9"/>
<path d="M521.70,185.20L540.00,188.20L558.50,188.20L576.80,185.00L613.10,183.00" stroke="#a9a9a9" stroke-width="0.6"/>
<path d="M521.70,197.80L540.00,195.20L558.50,185.50L576.80,202.20L613.10,111.40" stroke="#f25a5a" stroke-width="0.9"/>
<path d="M521.70,204.00L540.00,205.20L558.50,203.00L576.80,201.00" stroke="#f25a5a" stroke-width="0.9"/>
<path d="M521.70,203.00L540.00,202.20L558.50,203.00L576.80,203.00L613.10,182.90" stroke="#a9a9a9" stroke-width="0.6"/>
<path d="M521.70,168.00L540.00,170.70L558.50,179.40L576.80,179.40L613.10,96.00" stroke="#a9a9a9" stroke-width="0.6"/>
<path d="M558.50,197.80L576.80,193.40L613.10,100.00" stroke="#a9a9a9" stroke-width="0.6"/>
<path d="M521.70,210.80L540.00,210.80L558.50,210.50L576.80,210.80L613.10,209.20L634.50,205.30" stroke="#f25a5a" stroke-width="0.9"/>
<path d="M521.70,196.90L540.00,202.00L558.50,199.00L576.80,173.30L613.10,94.10" stroke="#a9a9a9" stroke-width="0.6"/>
</g>
<path d="M520.00,97.80L521.70,94.80L523.40,97.80Z" fill="#7099d2"/>
<path d="M538.30,98.30L540.00,95.30L541.70,98.30Z" fill="#7099d2"/>
<path d="M556.80,93.30L558.50,90.30L560.20,93.30Z" fill="#7099d2"/>
<path d="M575.10,95.20L576.80,92.20L578.50,95.20Z" fill="#7099d2"/>
<path d="M611.40,56.30L613.10,53.30L614.80,56.30Z" fill="#7099d2"/>
<path d="M520.00,102.70L521.70,99.70L523.40,102.70Z" fill="#7099d2"/>
<path d="M538.30,102.70L540.00,99.70L541.70,102.70Z" fill="#7099d2"/>
<path d="M556.80,102.00L558.50,99.00L560.20,102.00Z" fill="#7099d2"/>
<path d="M575.10,102.70L576.80,99.70L578.50,102.70Z" fill="#7099d2"/>
<path d="M611.40,97.80L613.10,94.80L614.80,97.80Z" fill="#7099d2"/>
<path d="M520.00,103.80L521.70,100.80L523.40,103.80Z" fill="#7099d2"/>
<path d="M538.30,103.80L540.00,100.80L541.70,103.80Z" fill="#7099d2"/>
<path d="M556.80,103.80L558.50,100.80L560.20,103.80Z" fill="#7099d2"/>
<path d="M575.10,104.40L576.80,101.40L578.50,104.40Z" fill="#7099d2"/>
<path d="M611.40,98.40L613.10,95.40L614.80,98.40Z" fill="#7099d2"/>
<path d="M575.10,151.40L576.80,148.40L578.50,151.40Z" fill="#7099d2"/>
<path d="M611.40,90.50L613.10,87.50L614.80,90.50Z" fill="#7099d2"/>
<path d="M632.80,76.40L634.50,73.40L636.20,76.40Z" fill="#7099d2"/>
<path d="M654.00,84.80L655.70,81.80L657.40,84.80Z" fill="#7099d2"/>
<path d="M575.10,166.40L576.80,163.40L578.50,166.40Z" fill="#7099d2"/>
<path d="M611.40,97.10L613.10,94.10L614.80,97.10Z" fill="#7099d2"/>
<path d="M632.80,93.10L634.50,90.10L636.20,93.10Z" fill="#7099d2"/>
<path d="M654.00,96.90L655.70,93.90L657.40,96.90Z" fill="#7099d2"/>
<path d="M520.00,211.90L521.70,208.90L523.40,211.90Z" fill="#7099d2"/>
<path d="M538.30,211.70L540.00,208.70L541.70,211.70Z" fill="#7099d2"/>
<path d="M556.80,211.40L558.50,208.40L560.20,211.40Z" fill="#7099d2"/>
<path d="M575.10,202.70L576.80,199.70L578.50,202.70Z" fill="#7099d2"/>
<path d="M611.40,105.70L613.10,102.70L614.80,105.70Z" fill="#7099d2"/>
<path d="M632.80,105.70L634.50,102.70L636.20,105.70Z" fill="#7099d2"/>
<path d="M520.00,116.70L521.70,113.70L523.40,116.70Z" fill="#7099d2"/>
<path d="M538.30,136.40L540.00,133.40L541.70,136.40Z" fill="#7099d2"/>
<path d="M556.80,151.40L558.50,148.40L560.20,151.40Z" fill="#7099d2"/>
<path d="M575.10,155.40L576.80,152.40L578.50,155.40Z" fill="#7099d2"/>
<path d="M520.00,127.80L521.70,124.80L523.40,127.80Z" fill="#7099d2"/>
<path d="M538.30,176.40L540.00,173.40L541.70,176.40Z" fill="#7099d2"/>
<path d="M520.00,171.40L521.70,168.40L523.40,171.40Z" fill="#7099d2"/>
<path d="M538.30,111.40L540.00,108.40L541.70,111.40Z" fill="#7099d2"/>
<path d="M556.80,176.40L558.50,173.40L560.20,176.40Z" fill="#7099d2"/>
<path d="M538.30,128.10L540.00,125.10L541.70,128.10Z" fill="#7099d2"/>
<path d="M556.80,116.70L558.50,113.70L560.20,116.70Z" fill="#7099d2"/>
<path d="M575.10,181.40L576.80,178.40L578.50,181.40Z" fill="#7099d2"/>
<path d="M520.00,143.40L521.70,140.40L523.40,143.40Z" fill="#7099d2"/>
<path d="M538.30,138.60L540.00,135.60L541.70,138.60Z" fill="#7099d2"/>
<path d="M556.80,141.60L558.50,138.60L560.20,141.60Z" fill="#7099d2"/>
<path d="M611.40,113.20L613.10,110.20L614.80,113.20Z" fill="#7099d2"/>
<path d="M520.00,146.50L521.70,143.50L523.40,146.50Z" fill="#7099d2"/>
<path d="M538.30,139.50L540.00,136.50L541.70,139.50Z" fill="#7099d2"/>
<path d="M556.80,146.50L558.50,143.50L560.20,146.50Z" fill="#7099d2"/>
<path d="M575.10,154.40L576.80,151.40L578.50,154.40Z" fill="#7099d2"/>
<path d="M611.40,121.50L613.10,118.50L614.80,121.50Z" fill="#7099d2"/>
<path d="M520.00,158.30L521.70,155.30L523.40,158.30Z" fill="#7099d2"/>
<path d="M538.30,158.30L540.00,155.30L541.70,158.30Z" fill="#7099d2"/>
<path d="M556.80,158.80L558.50,155.80L560.20,158.80Z" fill="#7099d2"/>
<path d="M575.10,159.30L576.80,156.30L578.50,159.30Z" fill="#7099d2"/>
<path d="M611.40,141.30L613.10,138.30L614.80,141.30Z" fill="#7099d2"/>
<path d="M632.80,133.40L634.50,130.40L636.20,133.40Z" fill="#7099d2"/>
<path d="M575.10,202.70L576.80,199.70L578.50,202.70Z" fill="#7099d2"/>
<path d="M632.80,151.90L634.50,148.90L636.20,151.90Z" fill="#7099d2"/>
<path d="M654.00,142.30L655.70,139.30L657.40,142.30Z" fill="#7099d2"/>
<path d="M520.00,186.60L521.70,183.60L523.40,186.60Z" fill="#7099d2"/>
<path d="M538.30,189.60L540.00,186.60L541.70,189.60Z" fill="#7099d2"/>
<path d="M556.80,189.60L558.50,186.60L560.20,189.60Z" fill="#7099d2"/>
<path d="M575.10,186.40L576.80,183.40L578.50,186.40Z" fill="#7099d2"/>
<path d="M611.40,184.40L613.10,181.40L614.80,184.40Z" fill="#7099d2"/>
<path d="M520.00,199.20L521.70,196.20L523.40,199.20Z" fill="#7099d2"/>
<path d="M538.30,196.60L540.00,193.60L541.70,196.60Z" fill="#7099d2"/>
<path d="M556.80,186.90L558.50,183.90L560.20,186.90Z" fill="#7099d2"/>
<path d="M575.10,203.60L576.80,200.60L578.50,203.60Z" fill="#7099d2"/>
<path d="M611.40,112.80L613.10,109.80L614.80,112.80Z" fill="#7099d2"/>
<path d="M520.00,205.40L521.70,202.40L523.40,205.40Z" fill="#7099d2"/>
<path d="M538.30,206.60L540.00,203.60L541.70,206.60Z" fill="#7099d2"/>
<path d="M556.80,204.40L558.50,201.40L560.20,204.40Z" fill="#7099d2"/>
<path d="M575.10,202.40L576.80,199.40L578.50,202.40Z" fill="#7099d2"/>
<path d="M520.00,204.40L521.70,201.40L523.40,204.40Z" fill="#7099d2"/>
<path d="M538.30,203.60L540.00,200.60L541.70,203.60Z" fill="#7099d2"/>
<path d="M556.80,204.40L558.50,201.40L560.20,204.40Z" fill="#7099d2"/>
<path d="M575.10,204.40L576.80,201.40L578.50,204.40Z" fill="#7099d2"/>
<path d="M611.40,184.30L613.10,181.30L614.80,184.30Z" fill="#7099d2"/>
<path d="M520.00,169.40L521.70,166.40L523.40,169.40Z" fill="#7099d2"/>
<path d="M538.30,172.10L540.00,169.10L541.70,172.10Z" fill="#7099d2"/>
<path d="M556.80,180.80L558.50,177.80L560.20,180.80Z" fill="#7099d2"/>
<path d="M575.10,180.80L576.80,177.80L578.50,180.80Z" fill="#7099d2"/>
<path d="M611.40,97.40L613.10,94.40L614.80,97.40Z" fill="#7099d2"/>
<path d="M556.80,199.20L558.50,196.20L560.20,199.20Z" fill="#7099d2"/>
<path d="M575.10,194.80L576.80,191.80L578.50,194.80Z" fill="#7099d2"/>
<path d="M611.40,101.40L613.10,98.40L614.80,101.40Z" fill="#7099d2"/>
<path d="M520.00,212.20L521.70,209.20L523.40,212.20Z" fill="#7099d2"/>
<path d="M538.30,212.20L540.00,209.20L541.70,212.20Z" fill="#7099d2"/>
<path d="M556.80,211.90L558.50,208.90L560.20,211.90Z" fill="#7099d2"/>
<path d="M575.10,212.20L576.80,209.20L578.50,212.20Z" fill="#7099d2"/>
<path d="M611.40,210.60L613.10,207.60L614.80,210.60Z" fill="#7099d2"/>
<path d="M632.80,206.70L634.50,203.70L636.20,206.70Z" fill="#7099d2"/>
<path d="M520.00,198.30L521.70,195.30L523.40,198.30Z" fill="#7099d2"/>
<path d="M538.30,203.40L540.00,200.40L541.70,203.40Z" fill="#7099d2"/>
<path d="M556.80,200.40L558.50,197.40L560.20,200.40Z" fill="#7099d2"/>
<path d="M575.10,174.70L576.80,171.70L578.50,174.70Z" fill="#7099d2"/>
<path d="M611.40,95.50L613.10,92.50L614.80,95.50Z" fill="#7099d2"/>
<line x1="509.6" y1="52.3" x2="509.6" y2="104.8" stroke="#000" stroke-width="1.3"/>
<line x1="509.6" y1="109.9" x2="509.6" y2="161.9" stroke="#000" stroke-width="1.3"/>
<line x1="509.6" y1="166.8" x2="509.6" y2="211.3" stroke="#000" stroke-width="1.3"/>
<line x1="507.3" y1="104.8" x2="511.90000000000003" y2="104.8" stroke="#000" stroke-width="1.2"/>
<line x1="507.3" y1="109.9" x2="511.90000000000003" y2="109.9" stroke="#000" stroke-width="1.2"/>
<line x1="507.3" y1="161.9" x2="511.90000000000003" y2="161.9" stroke="#000" stroke-width="1.2"/>
<line x1="507.3" y1="166.8" x2="511.90000000000003" y2="166.8" stroke="#000" stroke-width="1.2"/>
<line x1="509.6" y1="211.3" x2="668.6" y2="211.3" stroke="#000" stroke-width="1.3"/>
<line x1="521.7" y1="211.3" x2="521.7" y2="213.9" stroke="#000" stroke-width="1"/>
<line x1="540" y1="211.3" x2="540" y2="213.9" stroke="#000" stroke-width="1"/>
<line x1="558.5" y1="211.3" x2="558.5" y2="213.9" stroke="#000" stroke-width="1"/>
<line x1="576.8" y1="211.3" x2="576.8" y2="213.9" stroke="#000" stroke-width="1"/>
<line x1="613.1" y1="211.3" x2="613.1" y2="213.9" stroke="#000" stroke-width="1"/>
<line x1="634.5" y1="211.3" x2="634.5" y2="213.9" stroke="#000" stroke-width="1"/>
<line x1="655.7" y1="211.3" x2="655.7" y2="213.9" stroke="#000" stroke-width="1"/>
<line x1="506.8" y1="61.9" x2="509.6" y2="61.9" stroke="#000" stroke-width="1"/>
<text x="505.00" y="64.20" font-size="6.55" font-weight="bold" text-anchor="end" fill="#000" >150000</text>
<line x1="506.8" y1="76.4" x2="509.6" y2="76.4" stroke="#000" stroke-width="1"/>
<text x="505.00" y="78.70" font-size="6.55" font-weight="bold" text-anchor="end" fill="#000" >100000</text>
<line x1="506.8" y1="91.2" x2="509.6" y2="91.2" stroke="#000" stroke-width="1"/>
<text x="505.00" y="93.50" font-size="6.55" font-weight="bold" text-anchor="end" fill="#000" >50000</text>
<line x1="506.8" y1="110.1" x2="509.6" y2="110.1" stroke="#000" stroke-width="1"/>
<text x="505.00" y="112.40" font-size="6.55" font-weight="bold" text-anchor="end" fill="#000" >2000</text>
<line x1="506.8" y1="124.6" x2="509.6" y2="124.6" stroke="#000" stroke-width="1"/>
<text x="505.00" y="126.90" font-size="6.55" font-weight="bold" text-anchor="end" fill="#000" >1500</text>
<line x1="506.8" y1="139.3" x2="509.6" y2="139.3" stroke="#000" stroke-width="1"/>
<text x="505.00" y="141.60" font-size="6.55" font-weight="bold" text-anchor="end" fill="#000" >1000</text>
<line x1="506.8" y1="154" x2="509.6" y2="154" stroke="#000" stroke-width="1"/>
<text x="505.00" y="156.30" font-size="6.55" font-weight="bold" text-anchor="end" fill="#000" >500</text>
<line x1="506.8" y1="168" x2="509.6" y2="168" stroke="#000" stroke-width="1"/>
<text x="505.00" y="170.30" font-size="6.55" font-weight="bold" text-anchor="end" fill="#000" >240</text>
<line x1="506.8" y1="182.6" x2="509.6" y2="182.6" stroke="#000" stroke-width="1"/>
<text x="505.00" y="184.90" font-size="6.55" font-weight="bold" text-anchor="end" fill="#000" >160</text>
<line x1="506.8" y1="196.9" x2="509.6" y2="196.9" stroke="#000" stroke-width="1"/>
<text x="505.00" y="199.20" font-size="6.55" font-weight="bold" text-anchor="end" fill="#000" >80</text>
<line x1="506.8" y1="211.3" x2="509.6" y2="211.3" stroke="#000" stroke-width="1"/>
<text x="505.00" y="213.60" font-size="6.55" font-weight="bold" text-anchor="end" fill="#000" >0</text>
<text x="518.60" y="228.20" font-size="7.05" font-weight="bold" text-anchor="end" fill="#000" transform="rotate(-45 518.60 228.20)">T0</text>
<text x="537.80" y="228.80" font-size="7.05" font-weight="bold" text-anchor="end" fill="#000" transform="rotate(-45 537.80 228.80)">8h</text>
<text x="557.10" y="228.20" font-size="7.05" font-weight="bold" text-anchor="end" fill="#000" transform="rotate(-45 557.10 228.20)">24h</text>
<text x="573.50" y="227.60" font-size="7.05" font-weight="bold" text-anchor="end" fill="#000" transform="rotate(-45 573.50 227.60)">D7</text>
<text x="616.00" y="225.70" font-size="7.05" font-weight="bold" text-anchor="end" fill="#000" transform="rotate(-45 616.00 225.70)">Month 6-14</text>
<text x="638.40" y="225.20" font-size="7.05" font-weight="bold" text-anchor="end" fill="#000" transform="rotate(-45 638.40 225.20)">Month 12-20</text>
<text x="659.80" y="224.90" font-size="7.05" font-weight="bold" text-anchor="end" fill="#000" transform="rotate(-45 659.80 224.90)">Month 18-20</text>
<text x="521.90" y="50.90" font-size="7.1" font-weight="bold" text-anchor="middle" fill="#000" >332</text>
<text x="539.00" y="50.90" font-size="7.1" font-weight="bold" text-anchor="middle" fill="#000" >412</text>
<text x="560.70" y="50.90" font-size="7.1" font-weight="bold" text-anchor="middle" fill="#000" >596</text>
<text x="579.00" y="50.90" font-size="7.1" font-weight="bold" text-anchor="middle" fill="#000" >195</text>
<text x="614.90" y="50.90" font-size="7.1" font-weight="bold" text-anchor="middle" fill="#000" >4552</text>
<text x="635.90" y="50.90" font-size="7.1" font-weight="bold" text-anchor="middle" fill="#000" >2213</text>
<text x="661.30" y="50.90" font-size="7.1" font-weight="bold" text-anchor="middle" fill="#000" >35795</text>
<text x="558.50" y="35.50" font-size="9.7" font-weight="bold" text-anchor="middle" fill="#000" >Maximum allergen-dependent sIgG4/sIgE ratios in VAP</text>
<text x="595.40" y="267.00" font-size="8.4" font-weight="bold" text-anchor="middle" fill="#000" >Time post AIT</text>
<text x="480.50" y="121.00" font-size="9.5" font-weight="bold" text-anchor="middle" fill="#000" transform="rotate(-90 480.5 121)">sIgG4/sIgE ratio</text>
<clipPath id="c4"><rect x="41.3" y="298.50" width="169.2" height="100.40"/><rect x="41.3" y="403.70" width="169.2" height="81.20"/></clipPath>
<path d="M128.20,318.0h1.45v1.3h-1.45zM128.20,323.0h1.45v1.3h-1.45zM128.20,327.0h1.45v1.3h-1.45zM128.20,332.0h1.45v1.3h-1.45zM128.20,337.0h1.45v1.3h-1.45zM128.20,341.0h1.45v1.3h-1.45zM128.20,346.0h1.45v1.3h-1.45zM128.20,350.0h1.45v1.3h-1.45zM128.20,355.0h1.45v1.3h-1.45zM128.20,360.0h1.45v1.3h-1.45zM128.20,364.0h1.45v1.3h-1.45zM128.20,369.0h1.45v1.3h-1.45zM128.20,374.0h1.45v1.3h-1.45zM128.20,378.0h1.45v1.3h-1.45zM128.20,383.0h1.45v1.3h-1.45zM128.20,387.0h1.45v1.3h-1.45zM128.20,392.0h1.45v1.3h-1.45zM128.20,397.0h1.45v1.3h-1.45zM128.20,401.0h1.45v1.3h-1.45zM128.20,406.0h1.45v1.3h-1.45zM128.20,411.0h1.45v1.3h-1.45zM128.20,415.0h1.45v1.3h-1.45zM128.20,420.0h1.45v1.3h-1.45zM128.20,424.0h1.45v1.3h-1.45zM128.20,429.0h1.45v1.3h-1.45zM128.20,434.0h1.45v1.3h-1.45zM128.20,438.0h1.45v1.3h-1.45zM128.20,443.0h1.45v1.3h-1.45zM128.20,448.0h1.45v1.3h-1.45zM128.20,452.0h1.45v1.3h-1.45zM128.20,457.0h1.45v1.3h-1.45zM128.20,462.0h1.45v1.3h-1.45zM128.20,466.0h1.45v1.3h-1.45zM128.20,471.0h1.45v1.3h-1.45zM128.20,475.0h1.45v1.3h-1.45z" fill="#1e8e1e"/>
<g clip-path="url(#c4)" fill="none">
<path d="M55.40,476.00L73.60,473.00L91.80,470.00L110.10,429.60L146.80,326.60L168.30,326.30L189.30,348.70" stroke="#a9a9a9" stroke-width="0.6"/>
<path d="M55.40,476.00L73.60,471.00L91.80,467.00L110.10,459.60L146.80,397.30" stroke="#f25a5a" stroke-width="0.9"/>
<path d="M110.10,459.60L153.10,404.70L168.30,421.50" stroke="#f25a5a" stroke-width="0.9"/>
<path d="M55.40,476.00L73.60,472.00L91.80,470.00L110.10,475.00L146.80,397.40" stroke="#a9a9a9" stroke-width="0.6"/>
<path d="M55.40,476.00L73.60,474.00L91.80,473.00L110.10,470.00L146.80,417.70" stroke="#a9a9a9" stroke-width="0.6"/>
<path d="M55.40,476.00L73.60,475.00L91.80,474.00L110.10,468.10L146.80,447.80" stroke="#a9a9a9" stroke-width="0.6"/>
<path d="M55.40,476.00L73.60,474.00L91.80,472.00L110.10,466.00L146.80,447.00" stroke="#a9a9a9" stroke-width="0.6"/>
<path d="M55.40,476.00L73.60,473.00L91.80,471.00L110.10,468.00L146.80,464.50L168.30,464.50" stroke="#f25a5a" stroke-width="0.9"/>
<path d="M55.40,476.00L73.60,475.00L91.80,475.00L110.10,474.00L146.80,468.00L168.30,469.70L189.30,472.30" stroke="#a9a9a9" stroke-width="0.6"/>
<path d="M55.40,476.00L73.60,474.00L91.80,474.00L110.10,473.00L146.80,471.50L168.30,469.70" stroke="#f25a5a" stroke-width="0.9"/>
<path d="M55.40,476.00L73.60,473.00L91.80,471.00L110.10,468.00L168.30,386.40L189.30,389.70" stroke="#f25a5a" stroke-width="0.9"/>
<path d="M55.40,476.00L73.60,476.50L91.80,475.00L110.10,476.00L146.80,466.00" stroke="#a9a9a9" stroke-width="0.6"/>
<path d="M55.40,476.00L73.60,475.00L91.80,474.00L110.10,472.00L146.80,466.00" stroke="#f25a5a" stroke-width="0.9"/>
</g>
<path d="M53.90,477.30L55.40,474.60L56.90,477.30Z" fill="#c4d5ee" stroke="#7099d2" stroke-width="0.8"/>
<path d="M72.10,474.30L73.60,471.60L75.10,474.30Z" fill="#c4d5ee" stroke="#7099d2" stroke-width="0.8"/>
<path d="M90.30,471.30L91.80,468.60L93.30,471.30Z" fill="#c4d5ee" stroke="#7099d2" stroke-width="0.8"/>
<path d="M108.60,430.90L110.10,428.20L111.60,430.90Z" fill="#c4d5ee" stroke="#7099d2" stroke-width="0.8"/>
<path d="M145.30,327.90L146.80,325.20L148.30,327.90Z" fill="#c4d5ee" stroke="#7099d2" stroke-width="0.8"/>
<path d="M166.80,327.60L168.30,324.90L169.80,327.60Z" fill="#c4d5ee" stroke="#7099d2" stroke-width="0.8"/>
<path d="M187.80,350.00L189.30,347.30L190.80,350.00Z" fill="#c4d5ee" stroke="#7099d2" stroke-width="0.8"/>
<path d="M53.90,477.30L55.40,474.60L56.90,477.30Z" fill="#c4d5ee" stroke="#7099d2" stroke-width="0.8"/>
<path d="M72.10,472.30L73.60,469.60L75.10,472.30Z" fill="#c4d5ee" stroke="#7099d2" stroke-width="0.8"/>
<path d="M90.30,468.30L91.80,465.60L93.30,468.30Z" fill="#c4d5ee" stroke="#7099d2" stroke-width="0.8"/>
<path d="M108.60,460.90L110.10,458.20L111.60,460.90Z" fill="#c4d5ee" stroke="#7099d2" stroke-width="0.8"/>
<path d="M145.30,398.60L146.80,395.90L148.30,398.60Z" fill="#c4d5ee" stroke="#7099d2" stroke-width="0.8"/>
<path d="M108.60,460.90L110.10,458.20L111.60,460.90Z" fill="#c4d5ee" stroke="#7099d2" stroke-width="0.8"/>
<path d="M166.80,422.80L168.30,420.10L169.80,422.80Z" fill="#c4d5ee" stroke="#7099d2" stroke-width="0.8"/>
<path d="M53.90,477.30L55.40,474.60L56.90,477.30Z" fill="#c4d5ee" stroke="#7099d2" stroke-width="0.8"/>
<path d="M72.10,473.30L73.60,470.60L75.10,473.30Z" fill="#c4d5ee" stroke="#7099d2" stroke-width="0.8"/>
<path d="M90.30,471.30L91.80,468.60L93.30,471.30Z" fill="#c4d5ee" stroke="#7099d2" stroke-width="0.8"/>
<path d="M108.60,476.30L110.10,473.60L111.60,476.30Z" fill="#c4d5ee" stroke="#7099d2" stroke-width="0.8"/>
<path d="M145.30,398.70L146.80,396.00L148.30,398.70Z" fill="#c4d5ee" stroke="#7099d2" stroke-width="0.8"/>
<path d="M53.90,477.30L55.40,474.60L56.90,477.30Z" fill="#c4d5ee" stroke="#7099d2" stroke-width="0.8"/>
<path d="M72.10,475.30L73.60,472.60L75.10,475.30Z" fill="#c4d5ee" stroke="#7099d2" stroke-width="0.8"/>
<path d="M90.30,474.30L91.80,471.60L93.30,474.30Z" fill="#c4d5ee" stroke="#7099d2" stroke-width="0.8"/>
<path d="M108.60,471.30L110.10,468.60L111.60,471.30Z" fill="#c4d5ee" stroke="#7099d2" stroke-width="0.8"/>
<path d="M145.30,419.00L146.80,416.30L148.30,419.00Z" fill="#c4d5ee" stroke="#7099d2" stroke-width="0.8"/>
<path d="M53.90,477.30L55.40,474.60L56.90,477.30Z" fill="#c4d5ee" stroke="#7099d2" stroke-width="0.8"/>
<path d="M72.10,476.30L73.60,473.60L75.10,476.30Z" fill="#c4d5ee" stroke="#7099d2" stroke-width="0.8"/>
<path d="M90.30,475.30L91.80,472.60L93.30,475.30Z" fill="#c4d5ee" stroke="#7099d2" stroke-width="0.8"/>
<path d="M108.60,469.40L110.10,466.70L111.60,469.40Z" fill="#c4d5ee" stroke="#7099d2" stroke-width="0.8"/>
<path d="M145.30,449.10L146.80,446.40L148.30,449.10Z" fill="#c4d5ee" stroke="#7099d2" stroke-width="0.8"/>
<path d="M53.90,477.30L55.40,474.60L56.90,477.30Z" fill="#c4d5ee" stroke="#7099d2" stroke-width="0.8"/>
<path d="M72.10,475.30L73.60,472.60L75.10,475.30Z" fill="#c4d5ee" stroke="#7099d2" stroke-width="0.8"/>
<path d="M90.30,473.30L91.80,470.60L93.30,473.30Z" fill="#c4d5ee" stroke="#7099d2" stroke-width="0.8"/>
<path d="M108.60,467.30L110.10,464.60L111.60,467.30Z" fill="#c4d5ee" stroke="#7099d2" stroke-width="0.8"/>
<path d="M145.30,448.30L146.80,445.60L148.30,448.30Z" fill="#c4d5ee" stroke="#7099d2" stroke-width="0.8"/>
<path d="M53.90,477.30L55.40,474.60L56.90,477.30Z" fill="#c4d5ee" stroke="#7099d2" stroke-width="0.8"/>
<path d="M72.10,474.30L73.60,471.60L75.10,474.30Z" fill="#c4d5ee" stroke="#7099d2" stroke-width="0.8"/>
<path d="M90.30,472.30L91.80,469.60L93.30,472.30Z" fill="#c4d5ee" stroke="#7099d2" stroke-width="0.8"/>
<path d="M108.60,469.30L110.10,466.60L111.60,469.30Z" fill="#c4d5ee" stroke="#7099d2" stroke-width="0.8"/>
<path d="M145.30,465.80L146.80,463.10L148.30,465.80Z" fill="#c4d5ee" stroke="#7099d2" stroke-width="0.8"/>
<path d="M166.80,465.80L168.30,463.10L169.80,465.80Z" fill="#c4d5ee" stroke="#7099d2" stroke-width="0.8"/>
<path d="M53.90,477.30L55.40,474.60L56.90,477.30Z" fill="#c4d5ee" stroke="#7099d2" stroke-width="0.8"/>
<path d="M72.10,476.30L73.60,473.60L75.10,476.30Z" fill="#c4d5ee" stroke="#7099d2" stroke-width="0.8"/>
<path d="M90.30,476.30L91.80,473.60L93.30,476.30Z" fill="#c4d5ee" stroke="#7099d2" stroke-width="0.8"/>
<path d="M108.60,475.30L110.10,472.60L111.60,475.30Z" fill="#c4d5ee" stroke="#7099d2" stroke-width="0.8"/>
<path d="M145.30,469.30L146.80,466.60L148.30,469.30Z" fill="#c4d5ee" stroke="#7099d2" stroke-width="0.8"/>
<path d="M166.80,471.00L168.30,468.30L169.80,471.00Z" fill="#c4d5ee" stroke="#7099d2" stroke-width="0.8"/>
<path d="M187.80,473.60L189.30,470.90L190.80,473.60Z" fill="#c4d5ee" stroke="#7099d2" stroke-width="0.8"/>
<path d="M53.90,477.30L55.40,474.60L56.90,477.30Z" fill="#c4d5ee" stroke="#7099d2" stroke-width="0.8"/>
<path d="M72.10,475.30L73.60,472.60L75.10,475.30Z" fill="#c4d5ee" stroke="#7099d2" stroke-width="0.8"/>
<path d="M90.30,475.30L91.80,472.60L93.30,475.30Z" fill="#c4d5ee" stroke="#7099d2" stroke-width="0.8"/>
<path d="M108.60,474.30L110.10,471.60L111.60,474.30Z" fill="#c4d5ee" stroke="#7099d2" stroke-width="0.8"/>
<path d="M145.30,472.80L146.80,470.10L148.30,472.80Z" fill="#c4d5ee" stroke="#7099d2" stroke-width="0.8"/>
<path d="M166.80,471.00L168.30,468.30L169.80,471.00Z" fill="#c4d5ee" stroke="#7099d2" stroke-width="0.8"/>
<path d="M53.90,477.30L55.40,474.60L56.90,477.30Z" fill="#c4d5ee" stroke="#7099d2" stroke-width="0.8"/>
<path d="M72.10,474.30L73.60,471.60L75.10,474.30Z" fill="#c4d5ee" stroke="#7099d2" stroke-width="0.8"/>
<path d="M90.30,472.30L91.80,469.60L93.30,472.30Z" fill="#c4d5ee" stroke="#7099d2" stroke-width="0.8"/>
<path d="M108.60,469.30L110.10,466.60L111.60,469.30Z" fill="#c4d5ee" stroke="#7099d2" stroke-width="0.8"/>
<path d="M166.80,387.70L168.30,385.00L169.80,387.70Z" fill="#c4d5ee" stroke="#7099d2" stroke-width="0.8"/>
<path d="M187.80,391.00L189.30,388.30L190.80,391.00Z" fill="#c4d5ee" stroke="#7099d2" stroke-width="0.8"/>
<path d="M53.90,477.30L55.40,474.60L56.90,477.30Z" fill="#c4d5ee" stroke="#7099d2" stroke-width="0.8"/>
<path d="M72.10,477.80L73.60,475.10L75.10,477.80Z" fill="#c4d5ee" stroke="#7099d2" stroke-width="0.8"/>
<path d="M90.30,476.30L91.80,473.60L93.30,476.30Z" fill="#c4d5ee" stroke="#7099d2" stroke-width="0.8"/>
<path d="M108.60,477.30L110.10,474.60L111.60,477.30Z" fill="#c4d5ee" stroke="#7099d2" stroke-width="0.8"/>
<path d="M145.30,467.30L146.80,464.60L148.30,467.30Z" fill="#c4d5ee" stroke="#7099d2" stroke-width="0.8"/>
<path d="M53.90,477.30L55.40,474.60L56.90,477.30Z" fill="#c4d5ee" stroke="#7099d2" stroke-width="0.8"/>
<path d="M72.10,476.30L73.60,473.60L75.10,476.30Z" fill="#c4d5ee" stroke="#7099d2" stroke-width="0.8"/>
<path d="M90.30,475.30L91.80,472.60L93.30,475.30Z" fill="#c4d5ee" stroke="#7099d2" stroke-width="0.8"/>
<path d="M108.60,473.30L110.10,470.60L111.60,473.30Z" fill="#c4d5ee" stroke="#7099d2" stroke-width="0.8"/>
<path d="M145.30,467.30L146.80,464.60L148.30,467.30Z" fill="#c4d5ee" stroke="#7099d2" stroke-width="0.8"/>
<line x1="43.3" y1="318.5" x2="43.3" y2="398.9" stroke="#000" stroke-width="1.3"/>
<line x1="43.3" y1="403.7" x2="43.3" y2="476.9" stroke="#000" stroke-width="1.3"/>
<line x1="41.0" y1="398.9" x2="45.599999999999994" y2="398.9" stroke="#000" stroke-width="1.2"/>
<line x1="41.0" y1="403.7" x2="45.599999999999994" y2="403.7" stroke="#000" stroke-width="1.2"/>
<line x1="43.3" y1="476.9" x2="202.5" y2="476.9" stroke="#000" stroke-width="1.3"/>
<line x1="55.4" y1="476.9" x2="55.4" y2="479.5" stroke="#000" stroke-width="1"/>
<line x1="73.6" y1="476.9" x2="73.6" y2="479.5" stroke="#000" stroke-width="1"/>
<line x1="91.8" y1="476.9" x2="91.8" y2="479.5" stroke="#000" stroke-width="1"/>
<line x1="110.1" y1="476.9" x2="110.1" y2="479.5" stroke="#000" stroke-width="1"/>
<line x1="146.8" y1="476.9" x2="146.8" y2="479.5" stroke="#000" stroke-width="1"/>
<line x1="168.3" y1="476.9" x2="168.3" y2="479.5" stroke="#000" stroke-width="1"/>
<line x1="189.3" y1="476.9" x2="189.3" y2="479.5" stroke="#000" stroke-width="1"/>
<line x1="40.5" y1="318.5" x2="43.3" y2="318.5" stroke="#000" stroke-width="1"/>
<text x="38.70" y="320.80" font-size="6.55" font-weight="bold" text-anchor="end" fill="#000" >800</text>
<line x1="40.5" y1="339.6" x2="43.3" y2="339.6" stroke="#000" stroke-width="1"/>
<text x="38.70" y="341.90" font-size="6.55" font-weight="bold" text-anchor="end" fill="#000" >600</text>
<line x1="40.5" y1="360.2" x2="43.3" y2="360.2" stroke="#000" stroke-width="1"/>
<text x="38.70" y="362.50" font-size="6.55" font-weight="bold" text-anchor="end" fill="#000" >400</text>
<line x1="40.5" y1="381" x2="43.3" y2="381" stroke="#000" stroke-width="1"/>
<text x="38.70" y="383.30" font-size="6.55" font-weight="bold" text-anchor="end" fill="#000" >200</text>
<line x1="40.5" y1="403.8" x2="43.3" y2="403.8" stroke="#000" stroke-width="1"/>
<text x="38.70" y="406.10" font-size="6.55" font-weight="bold" text-anchor="end" fill="#000" >25</text>
<line x1="40.5" y1="418.5" x2="43.3" y2="418.5" stroke="#000" stroke-width="1"/>
<text x="38.70" y="420.80" font-size="6.55" font-weight="bold" text-anchor="end" fill="#000" >20</text>
<line x1="40.5" y1="433.2" x2="43.3" y2="433.2" stroke="#000" stroke-width="1"/>
<text x="38.70" y="435.50" font-size="6.55" font-weight="bold" text-anchor="end" fill="#000" >15</text>
<line x1="40.5" y1="447.9" x2="43.3" y2="447.9" stroke="#000" stroke-width="1"/>
<text x="38.70" y="450.20" font-size="6.55" font-weight="bold" text-anchor="end" fill="#000" >10</text>
<line x1="40.5" y1="462.4" x2="43.3" y2="462.4" stroke="#000" stroke-width="1"/>
<text x="38.70" y="464.70" font-size="6.55" font-weight="bold" text-anchor="end" fill="#000" >5</text>
<line x1="40.5" y1="476.9" x2="43.3" y2="476.9" stroke="#000" stroke-width="1"/>
<text x="38.70" y="479.20" font-size="6.55" font-weight="bold" text-anchor="end" fill="#000" >0</text>
<text x="52.30" y="491.20" font-size="7.05" font-weight="bold" text-anchor="end" fill="#000" transform="rotate(-45 52.30 491.20)">T0</text>
<text x="71.40" y="491.80" font-size="7.05" font-weight="bold" text-anchor="end" fill="#000" transform="rotate(-45 71.40 491.80)">8h</text>
<text x="90.40" y="491.20" font-size="7.05" font-weight="bold" text-anchor="end" fill="#000" transform="rotate(-45 90.40 491.20)">24h</text>
<text x="106.80" y="490.60" font-size="7.05" font-weight="bold" text-anchor="end" fill="#000" transform="rotate(-45 106.80 490.60)">D7</text>
<text x="149.70" y="488.70" font-size="7.05" font-weight="bold" text-anchor="end" fill="#000" transform="rotate(-45 149.70 488.70)">Month 6-14</text>
<text x="172.20" y="488.20" font-size="7.05" font-weight="bold" text-anchor="end" fill="#000" transform="rotate(-45 172.20 488.20)">Month 12-20</text>
<text x="193.40" y="487.90" font-size="7.05" font-weight="bold" text-anchor="end" fill="#000" transform="rotate(-45 193.40 487.90)">Month 18-20</text>
<text x="55.40" y="312.90" font-size="7.1" font-weight="bold" text-anchor="middle" fill="#000" >1</text>
<text x="74.30" y="312.90" font-size="7.1" font-weight="bold" text-anchor="middle" fill="#000" >1.06</text>
<text x="95.70" y="312.90" font-size="7.1" font-weight="bold" text-anchor="middle" fill="#000" >1.05</text>
<text x="113.00" y="312.90" font-size="7.1" font-weight="bold" text-anchor="middle" fill="#000" >1.04</text>
<text x="147.40" y="312.90" font-size="7.1" font-weight="bold" text-anchor="middle" fill="#000" >7.14</text>
<text x="170.50" y="312.90" font-size="7.1" font-weight="bold" text-anchor="middle" fill="#000" >11.81</text>
<text x="196.10" y="312.90" font-size="7.1" font-weight="bold" text-anchor="middle" fill="#000" >117.69</text>
<text x="137.00" y="286.70" font-size="9.7" font-weight="bold" text-anchor="middle" fill="#000" >sIgG4 titers in VAP:</text>
<text x="136.40" y="298.40" font-size="9.7" font-weight="bold" text-anchor="middle" fill="#000" >Ratios relative to baseline</text>
<text x="129.30" y="530.20" font-size="8.4" font-weight="bold" text-anchor="middle" fill="#000" >Time post AIT</text>
<text x="10.50" y="385.30" font-size="9.5" font-weight="bold" text-anchor="middle" fill="#000" transform="rotate(-90 10.5 385.3)">Ratio with T0</text>
<clipPath id="c5"><rect x="258.5" y="299.30" width="169.5" height="100.30"/><rect x="258.5" y="404.50" width="169.5" height="81.00"/></clipPath>
<path d="M344.90,318.0h1.45v1.3h-1.45zM344.90,323.0h1.45v1.3h-1.45zM344.90,328.0h1.45v1.3h-1.45zM344.90,332.0h1.45v1.3h-1.45zM344.90,337.0h1.45v1.3h-1.45zM344.90,342.0h1.45v1.3h-1.45zM344.90,346.0h1.45v1.3h-1.45zM344.90,351.0h1.45v1.3h-1.45zM344.90,355.0h1.45v1.3h-1.45zM344.90,360.0h1.45v1.3h-1.45zM344.90,365.0h1.45v1.3h-1.45zM344.90,369.0h1.45v1.3h-1.45zM344.90,374.0h1.45v1.3h-1.45zM344.90,379.0h1.45v1.3h-1.45zM344.90,383.0h1.45v1.3h-1.45zM344.90,388.0h1.45v1.3h-1.45zM344.90,392.0h1.45v1.3h-1.45zM344.90,397.0h1.45v1.3h-1.45zM344.90,402.0h1.45v1.3h-1.45zM344.90,406.0h1.45v1.3h-1.45zM344.90,411.0h1.45v1.3h-1.45zM344.90,416.0h1.45v1.3h-1.45zM344.90,420.0h1.45v1.3h-1.45zM344.90,425.0h1.45v1.3h-1.45zM344.90,430.0h1.45v1.3h-1.45zM344.90,434.0h1.45v1.3h-1.45zM344.90,439.0h1.45v1.3h-1.45zM344.90,443.0h1.45v1.3h-1.45zM344.90,448.0h1.45v1.3h-1.45zM344.90,453.0h1.45v1.3h-1.45zM344.90,457.0h1.45v1.3h-1.45zM344.90,462.0h1.45v1.3h-1.45zM344.90,467.0h1.45v1.3h-1.45zM344.90,471.0h1.45v1.3h-1.45zM344.90,476.0h1.45v1.3h-1.45z" fill="#1e8e1e"/>
<g clip-path="url(#c5)" fill="none">
<path d="M272.50,453.30L290.90,423.60L309.10,439.00L327.40,350.80L364.10,432.20L385.40,453.40L406.60,453.40" stroke="#a9a9a9" stroke-width="0.6"/>
<path d="M272.50,453.30L290.90,469.90L309.10,471.90L327.40,367.10L364.10,419.10" stroke="#a9a9a9" stroke-width="0.6"/>
<path d="M272.50,453.30L290.90,477.50L309.10,439.70L327.40,382.90L364.10,440.30" stroke="#a9a9a9" stroke-width="0.6"/>
<path d="M272.50,453.30L290.90,448.00L309.10,448.90L327.40,391.10L364.10,348.20L385.40,352.90L406.60,385.30" stroke="#f25a5a" stroke-width="0.9"/>
<path d="M272.50,453.30L290.90,452.00L309.10,454.00L327.40,421.30L364.10,457.80L385.40,469.50" stroke="#f25a5a" stroke-width="0.9"/>
<path d="M272.50,453.30L290.90,450.00L309.10,458.00L327.40,454.00L364.10,432.20" stroke="#f25a5a" stroke-width="0.9"/>
<path d="M272.50,453.30L290.90,449.00L309.10,452.00L327.40,453.40L364.10,452.00L385.40,457.00" stroke="#f25a5a" stroke-width="0.9"/>
<path d="M272.50,453.30L290.90,455.00L309.10,456.00L327.40,459.00L364.10,459.20L385.40,466.50L406.60,468.00" stroke="#a9a9a9" stroke-width="0.6"/>
<path d="M272.50,453.30L290.90,451.00L309.10,459.00L327.40,456.00L364.10,460.70L385.40,466.50" stroke="#f25a5a" stroke-width="0.9"/>
<path d="M272.50,453.30L290.90,450.00L309.10,456.00L327.40,458.00L364.10,466.20L385.40,470.20" stroke="#f25a5a" stroke-width="0.9"/>
<path d="M272.50,453.30L290.90,468.00L309.10,471.90L327.40,436.40L364.10,378.50" stroke="#a9a9a9" stroke-width="0.6"/>
<path d="M272.50,453.30L290.90,455.00L309.10,462.00L327.40,442.30L364.10,419.10" stroke="#a9a9a9" stroke-width="0.6"/>
<path d="M272.50,453.30L290.90,452.00L309.10,450.00L327.40,467.90" stroke="#a9a9a9" stroke-width="0.6"/>
<path d="M272.50,453.30L290.90,447.00L309.10,450.00L327.40,452.00L364.10,463.00" stroke="#a9a9a9" stroke-width="0.6"/>
</g>
<path d="M271.00,454.60L272.50,451.90L274.00,454.60Z" fill="#c4d5ee" stroke="#7099d2" stroke-width="0.8"/>
<path d="M289.40,424.90L290.90,422.20L292.40,424.90Z" fill="#c4d5ee" stroke="#7099d2" stroke-width="0.8"/>
<path d="M307.60,440.30L309.10,437.60L310.60,440.30Z" fill="#c4d5ee" stroke="#7099d2" stroke-width="0.8"/>
<path d="M325.90,352.10L327.40,349.40L328.90,352.10Z" fill="#c4d5ee" stroke="#7099d2" stroke-width="0.8"/>
<path d="M362.60,433.50L364.10,430.80L365.60,433.50Z" fill="#c4d5ee" stroke="#7099d2" stroke-width="0.8"/>
<path d="M383.90,454.70L385.40,452.00L386.90,454.70Z" fill="#c4d5ee" stroke="#7099d2" stroke-width="0.8"/>
<path d="M405.10,454.70L406.60,452.00L408.10,454.70Z" fill="#c4d5ee" stroke="#7099d2" stroke-width="0.8"/>
<path d="M271.00,454.60L272.50,451.90L274.00,454.60Z" fill="#c4d5ee" stroke="#7099d2" stroke-width="0.8"/>
<path d="M289.40,471.20L290.90,468.50L292.40,471.20Z" fill="#c4d5ee" stroke="#7099d2" stroke-width="0.8"/>
<path d="M307.60,473.20L309.10,470.50L310.60,473.20Z" fill="#c4d5ee" stroke="#7099d2" stroke-width="0.8"/>
<path d="M325.90,368.40L327.40,365.70L328.90,368.40Z" fill="#c4d5ee" stroke="#7099d2" stroke-width="0.8"/>
<path d="M362.60,420.40L364.10,417.70L365.60,420.40Z" fill="#c4d5ee" stroke="#7099d2" stroke-width="0.8"/>
<path d="M271.00,454.60L272.50,451.90L274.00,454.60Z" fill="#c4d5ee" stroke="#7099d2" stroke-width="0.8"/>
<path d="M289.40,478.80L290.90,476.10L292.40,478.80Z" fill="#c4d5ee" stroke="#7099d2" stroke-width="0.8"/>
<path d="M307.60,441.00L309.10,438.30L310.60,441.00Z" fill="#c4d5ee" stroke="#7099d2" stroke-width="0.8"/>
<path d="M325.90,384.20L327.40,381.50L328.90,384.20Z" fill="#c4d5ee" stroke="#7099d2" stroke-width="0.8"/>
<path d="M362.60,441.60L364.10,438.90L365.60,441.60Z" fill="#c4d5ee" stroke="#7099d2" stroke-width="0.8"/>
<path d="M271.00,454.60L272.50,451.90L274.00,454.60Z" fill="#c4d5ee" stroke="#7099d2" stroke-width="0.8"/>
<path d="M289.40,449.30L290.90,446.60L292.40,449.30Z" fill="#c4d5ee" stroke="#7099d2" stroke-width="0.8"/>
<path d="M307.60,450.20L309.10,447.50L310.60,450.20Z" fill="#c4d5ee" stroke="#7099d2" stroke-width="0.8"/>
<path d="M325.90,392.40L327.40,389.70L328.90,392.40Z" fill="#c4d5ee" stroke="#7099d2" stroke-width="0.8"/>
<path d="M362.60,349.50L364.10,346.80L365.60,349.50Z" fill="#c4d5ee" stroke="#7099d2" stroke-width="0.8"/>
<path d="M383.90,354.20L385.40,351.50L386.90,354.20Z" fill="#c4d5ee" stroke="#7099d2" stroke-width="0.8"/>
<path d="M405.10,386.60L406.60,383.90L408.10,386.60Z" fill="#c4d5ee" stroke="#7099d2" stroke-width="0.8"/>
<path d="M271.00,454.60L272.50,451.90L274.00,454.60Z" fill="#c4d5ee" stroke="#7099d2" stroke-width="0.8"/>
<path d="M289.40,453.30L290.90,450.60L292.40,453.30Z" fill="#c4d5ee" stroke="#7099d2" stroke-width="0.8"/>
<path d="M307.60,455.30L309.10,452.60L310.60,455.30Z" fill="#c4d5ee" stroke="#7099d2" stroke-width="0.8"/>
<path d="M325.90,422.60L327.40,419.90L328.90,422.60Z" fill="#c4d5ee" stroke="#7099d2" stroke-width="0.8"/>
<path d="M362.60,459.10L364.10,456.40L365.60,459.10Z" fill="#c4d5ee" stroke="#7099d2" stroke-width="0.8"/>
<path d="M383.90,470.80L385.40,468.10L386.90,470.80Z" fill="#c4d5ee" stroke="#7099d2" stroke-width="0.8"/>
<path d="M271.00,454.60L272.50,451.90L274.00,454.60Z" fill="#c4d5ee" stroke="#7099d2" stroke-width="0.8"/>
<path d="M289.40,451.30L290.90,448.60L292.40,451.30Z" fill="#c4d5ee" stroke="#7099d2" stroke-width="0.8"/>
<path d="M307.60,459.30L309.10,456.60L310.60,459.30Z" fill="#c4d5ee" stroke="#7099d2" stroke-width="0.8"/>
<path d="M325.90,455.30L327.40,452.60L328.90,455.30Z" fill="#c4d5ee" stroke="#7099d2" stroke-width="0.8"/>
<path d="M362.60,433.50L364.10,430.80L365.60,433.50Z" fill="#c4d5ee" stroke="#7099d2" stroke-width="0.8"/>
<path d="M271.00,454.60L272.50,451.90L274.00,454.60Z" fill="#c4d5ee" stroke="#7099d2" stroke-width="0.8"/>
<path d="M289.40,450.30L290.90,447.60L292.40,450.30Z" fill="#c4d5ee" stroke="#7099d2" stroke-width="0.8"/>
<path d="M307.60,453.30L309.10,450.60L310.60,453.30Z" fill="#c4d5ee" stroke="#7099d2" stroke-width="0.8"/>
<path d="M325.90,454.70L327.40,452.00L328.90,454.70Z" fill="#c4d5ee" stroke="#7099d2" stroke-width="0.8"/>
<path d="M362.60,453.30L364.10,450.60L365.60,453.30Z" fill="#c4d5ee" stroke="#7099d2" stroke-width="0.8"/>
<path d="M383.90,458.30L385.40,455.60L386.90,458.30Z" fill="#c4d5ee" stroke="#7099d2" stroke-width="0.8"/>
<path d="M271.00,454.60L272.50,451.90L274.00,454.60Z" fill="#c4d5ee" stroke="#7099d2" stroke-width="0.8"/>
<path d="M289.40,456.30L290.90,453.60L292.40,456.30Z" fill="#c4d5ee" stroke="#7099d2" stroke-width="0.8"/>
<path d="M307.60,457.30L309.10,454.60L310.60,457.30Z" fill="#c4d5ee" stroke="#7099d2" stroke-width="0.8"/>
<path d="M325.90,460.30L327.40,457.60L328.90,460.30Z" fill="#c4d5ee" stroke="#7099d2" stroke-width="0.8"/>
<path d="M362.60,460.50L364.10,457.80L365.60,460.50Z" fill="#c4d5ee" stroke="#7099d2" stroke-width="0.8"/>
<path d="M383.90,467.80L385.40,465.10L386.90,467.80Z" fill="#c4d5ee" stroke="#7099d2" stroke-width="0.8"/>
<path d="M405.10,469.30L406.60,466.60L408.10,469.30Z" fill="#c4d5ee" stroke="#7099d2" stroke-width="0.8"/>
<path d="M271.00,454.60L272.50,451.90L274.00,454.60Z" fill="#c4d5ee" stroke="#7099d2" stroke-width="0.8"/>
<path d="M289.40,452.30L290.90,449.60L292.40,452.30Z" fill="#c4d5ee" stroke="#7099d2" stroke-width="0.8"/>
<path d="M307.60,460.30L309.10,457.60L310.60,460.30Z" fill="#c4d5ee" stroke="#7099d2" stroke-width="0.8"/>
<path d="M325.90,457.30L327.40,454.60L328.90,457.30Z" fill="#c4d5ee" stroke="#7099d2" stroke-width="0.8"/>
<path d="M362.60,462.00L364.10,459.30L365.60,462.00Z" fill="#c4d5ee" stroke="#7099d2" stroke-width="0.8"/>
<path d="M383.90,467.80L385.40,465.10L386.90,467.80Z" fill="#c4d5ee" stroke="#7099d2" stroke-width="0.8"/>
<path d="M271.00,454.60L272.50,451.90L274.00,454.60Z" fill="#c4d5ee" stroke="#7099d2" stroke-width="0.8"/>
<path d="M289.40,451.30L290.90,448.60L292.40,451.30Z" fill="#c4d5ee" stroke="#7099d2" stroke-width="0.8"/>
<path d="M307.60,457.30L309.10,454.60L310.60,457.30Z" fill="#c4d5ee" stroke="#7099d2" stroke-width="0.8"/>
<path d="M325.90,459.30L327.40,456.60L328.90,459.30Z" fill="#c4d5ee" stroke="#7099d2" stroke-width="0.8"/>
<path d="M362.60,467.50L364.10,464.80L365.60,467.50Z" fill="#c4d5ee" stroke="#7099d2" stroke-width="0.8"/>
<path d="M383.90,471.50L385.40,468.80L386.90,471.50Z" fill="#c4d5ee" stroke="#7099d2" stroke-width="0.8"/>
<path d="M271.00,454.60L272.50,451.90L274.00,454.60Z" fill="#c4d5ee" stroke="#7099d2" stroke-width="0.8"/>
<path d="M289.40,469.30L290.90,466.60L292.40,469.30Z" fill="#c4d5ee" stroke="#7099d2" stroke-width="0.8"/>
<path d="M307.60,473.20L309.10,470.50L310.60,473.20Z" fill="#c4d5ee" stroke="#7099d2" stroke-width="0.8"/>
<path d="M325.90,437.70L327.40,435.00L328.90,437.70Z" fill="#c4d5ee" stroke="#7099d2" stroke-width="0.8"/>
<path d="M362.60,379.80L364.10,377.10L365.60,379.80Z" fill="#c4d5ee" stroke="#7099d2" stroke-width="0.8"/>
<path d="M271.00,454.60L272.50,451.90L274.00,454.60Z" fill="#c4d5ee" stroke="#7099d2" stroke-width="0.8"/>
<path d="M289.40,456.30L290.90,453.60L292.40,456.30Z" fill="#c4d5ee" stroke="#7099d2" stroke-width="0.8"/>
<path d="M307.60,463.30L309.10,460.60L310.60,463.30Z" fill="#c4d5ee" stroke="#7099d2" stroke-width="0.8"/>
<path d="M325.90,443.60L327.40,440.90L328.90,443.60Z" fill="#c4d5ee" stroke="#7099d2" stroke-width="0.8"/>
<path d="M362.60,420.40L364.10,417.70L365.60,420.40Z" fill="#c4d5ee" stroke="#7099d2" stroke-width="0.8"/>
<path d="M271.00,454.60L272.50,451.90L274.00,454.60Z" fill="#c4d5ee" stroke="#7099d2" stroke-width="0.8"/>
<path d="M289.40,453.30L290.90,450.60L292.40,453.30Z" fill="#c4d5ee" stroke="#7099d2" stroke-width="0.8"/>
<path d="M307.60,451.30L309.10,448.60L310.60,451.30Z" fill="#c4d5ee" stroke="#7099d2" stroke-width="0.8"/>
<path d="M325.90,469.20L327.40,466.50L328.90,469.20Z" fill="#c4d5ee" stroke="#7099d2" stroke-width="0.8"/>
<path d="M271.00,454.60L272.50,451.90L274.00,454.60Z" fill="#c4d5ee" stroke="#7099d2" stroke-width="0.8"/>
<path d="M289.40,448.30L290.90,445.60L292.40,448.30Z" fill="#c4d5ee" stroke="#7099d2" stroke-width="0.8"/>
<path d="M307.60,451.30L309.10,448.60L310.60,451.30Z" fill="#c4d5ee" stroke="#7099d2" stroke-width="0.8"/>
<path d="M325.90,453.30L327.40,450.60L328.90,453.30Z" fill="#c4d5ee" stroke="#7099d2" stroke-width="0.8"/>
<path d="M362.60,464.30L364.10,461.60L365.60,464.30Z" fill="#c4d5ee" stroke="#7099d2" stroke-width="0.8"/>
<line x1="260.5" y1="319.3" x2="260.5" y2="399.6" stroke="#000" stroke-width="1.3"/>
<line x1="260.5" y1="404.5" x2="260.5" y2="477.5" stroke="#000" stroke-width="1.3"/>
<line x1="258.2" y1="399.6" x2="262.8" y2="399.6" stroke="#000" stroke-width="1.2"/>
<line x1="258.2" y1="404.5" x2="262.8" y2="404.5" stroke="#000" stroke-width="1.2"/>
<line x1="260.5" y1="477.5" x2="420" y2="477.5" stroke="#000" stroke-width="1.3"/>
<line x1="272.5" y1="477.5" x2="272.5" y2="480.1" stroke="#000" stroke-width="1"/>
<line x1="290.9" y1="477.5" x2="290.9" y2="480.1" stroke="#000" stroke-width="1"/>
<line x1="309.1" y1="477.5" x2="309.1" y2="480.1" stroke="#000" stroke-width="1"/>
<line x1="327.4" y1="477.5" x2="327.4" y2="480.1" stroke="#000" stroke-width="1"/>
<line x1="364.1" y1="477.5" x2="364.1" y2="480.1" stroke="#000" stroke-width="1"/>
<line x1="385.4" y1="477.5" x2="385.4" y2="480.1" stroke="#000" stroke-width="1"/>
<line x1="406.6" y1="477.5" x2="406.6" y2="480.1" stroke="#000" stroke-width="1"/>
<line x1="257.7" y1="319.3" x2="260.5" y2="319.3" stroke="#000" stroke-width="1"/>
<text x="255.90" y="321.60" font-size="6.55" font-weight="bold" text-anchor="end" fill="#000" >15</text>
<line x1="257.7" y1="352.6" x2="260.5" y2="352.6" stroke="#000" stroke-width="1"/>
<text x="255.90" y="354.90" font-size="6.55" font-weight="bold" text-anchor="end" fill="#000" >10</text>
<line x1="257.7" y1="386.2" x2="260.5" y2="386.2" stroke="#000" stroke-width="1"/>
<text x="255.90" y="388.50" font-size="6.55" font-weight="bold" text-anchor="end" fill="#000" >5</text>
<line x1="257.7" y1="404.5" x2="260.5" y2="404.5" stroke="#000" stroke-width="1"/>
<text x="255.90" y="406.80" font-size="6.55" font-weight="bold" text-anchor="end" fill="#000" >3</text>
<line x1="257.7" y1="429" x2="260.5" y2="429" stroke="#000" stroke-width="1"/>
<text x="255.90" y="431.30" font-size="6.55" font-weight="bold" text-anchor="end" fill="#000" >2</text>
<line x1="257.7" y1="453.3" x2="260.5" y2="453.3" stroke="#000" stroke-width="1"/>
<text x="255.90" y="455.60" font-size="6.55" font-weight="bold" text-anchor="end" fill="#000" >1</text>
<line x1="257.7" y1="477.5" x2="260.5" y2="477.5" stroke="#000" stroke-width="1"/>
<text x="255.90" y="479.80" font-size="6.55" font-weight="bold" text-anchor="end" fill="#000" >0</text>
<text x="269.40" y="491.80" font-size="7.05" font-weight="bold" text-anchor="end" fill="#000" transform="rotate(-45 269.40 491.80)">T0</text>
<text x="288.70" y="492.40" font-size="7.05" font-weight="bold" text-anchor="end" fill="#000" transform="rotate(-45 288.70 492.40)">8h</text>
<text x="307.70" y="491.80" font-size="7.05" font-weight="bold" text-anchor="end" fill="#000" transform="rotate(-45 307.70 491.80)">24h</text>
<text x="324.10" y="491.20" font-size="7.05" font-weight="bold" text-anchor="end" fill="#000" transform="rotate(-45 324.10 491.20)">D7</text>
<text x="367.00" y="489.30" font-size="7.05" font-weight="bold" text-anchor="end" fill="#000" transform="rotate(-45 367.00 489.30)">Month 6-14</text>
<text x="389.30" y="488.80" font-size="7.05" font-weight="bold" text-anchor="end" fill="#000" transform="rotate(-45 389.30 488.80)">Month 12-20</text>
<text x="410.70" y="488.50" font-size="7.05" font-weight="bold" text-anchor="end" fill="#000" transform="rotate(-45 410.70 488.50)">Month 18-20</text>
<text x="271.50" y="313.10" font-size="7.1" font-weight="bold" text-anchor="middle" fill="#000" >1</text>
<text x="289.20" y="313.10" font-size="7.1" font-weight="bold" text-anchor="middle" fill="#000" >1.04</text>
<text x="310.80" y="313.10" font-size="7.1" font-weight="bold" text-anchor="middle" fill="#000" >1.04</text>
<text x="328.30" y="313.10" font-size="7.1" font-weight="bold" text-anchor="middle" fill="#000" >1.00</text>
<text x="363.80" y="313.10" font-size="7.1" font-weight="bold" text-anchor="middle" fill="#000" >1.06</text>
<text x="386.00" y="313.10" font-size="7.1" font-weight="bold" text-anchor="middle" fill="#000" >0.65</text>
<text x="408.50" y="313.10" font-size="7.1" font-weight="bold" text-anchor="middle" fill="#000" >0.99</text>
<text x="339.00" y="286.80" font-size="9.7" font-weight="bold" text-anchor="middle" fill="#000" >sIgE titers in VAP:</text>
<text x="339.20" y="298.40" font-size="9.7" font-weight="bold" text-anchor="middle" fill="#000" >Ratios relative to baseline</text>
<text x="348.50" y="530.90" font-size="8.4" font-weight="bold" text-anchor="middle" fill="#000" >Time post AIT</text>
<text x="237.50" y="385.60" font-size="9.5" font-weight="bold" text-anchor="middle" fill="#000" transform="rotate(-90 237.5 385.6)">Ratio with T0</text>
<clipPath id="c6"><rect x="507.9" y="300.10" width="168.60000000000002" height="100.00"/><rect x="507.9" y="405.20" width="168.60000000000002" height="81.00"/></clipPath>
<path d="M594.70,320.0h1.45v1.3h-1.45zM594.70,324.0h1.45v1.3h-1.45zM594.70,329.0h1.45v1.3h-1.45zM594.70,333.0h1.45v1.3h-1.45zM594.70,338.0h1.45v1.3h-1.45zM594.70,343.0h1.45v1.3h-1.45zM594.70,347.0h1.45v1.3h-1.45zM594.70,352.0h1.45v1.3h-1.45zM594.70,357.0h1.45v1.3h-1.45zM594.70,361.0h1.45v1.3h-1.45zM594.70,366.0h1.45v1.3h-1.45zM594.70,371.0h1.45v1.3h-1.45zM594.70,375.0h1.45v1.3h-1.45zM594.70,380.0h1.45v1.3h-1.45zM594.70,384.0h1.45v1.3h-1.45zM594.70,389.0h1.45v1.3h-1.45zM594.70,394.0h1.45v1.3h-1.45zM594.70,398.0h1.45v1.3h-1.45zM594.70,403.0h1.45v1.3h-1.45zM594.70,408.0h1.45v1.3h-1.45zM594.70,412.0h1.45v1.3h-1.45zM594.70,417.0h1.45v1.3h-1.45zM594.70,421.0h1.45v1.3h-1.45zM594.70,426.0h1.45v1.3h-1.45zM594.70,431.0h1.45v1.3h-1.45zM594.70,435.0h1.45v1.3h-1.45zM594.70,440.0h1.45v1.3h-1.45zM594.70,445.0h1.45v1.3h-1.45zM594.70,449.0h1.45v1.3h-1.45zM594.70,454.0h1.45v1.3h-1.45zM594.70,458.0h1.45v1.3h-1.45zM594.70,463.0h1.45v1.3h-1.45zM594.70,468.0h1.45v1.3h-1.45zM594.70,472.0h1.45v1.3h-1.45zM594.70,477.0h1.45v1.3h-1.45z" fill="#1e8e1e"/>
<g clip-path="url(#c6)" fill="none">
<path d="M522.20,470.90L540.40,397.20L558.70,469.00L576.90,472.00" stroke="#a9a9a9" stroke-width="0.6"/>
<path d="M522.20,470.90L540.40,434.40L558.70,423.00L576.90,472.40" stroke="#a9a9a9" stroke-width="0.6"/>
<path d="M522.20,470.90L540.40,470.00L558.70,462.00L576.90,471.00L613.40,361.30L634.70,328.40L656.00,349.40" stroke="#a9a9a9" stroke-width="0.6"/>
<path d="M522.20,470.90L540.40,465.80L558.70,462.90L576.90,462.90L613.40,396.40L634.70,397.20" stroke="#f25a5a" stroke-width="0.9"/>
<path d="M522.20,470.90L540.40,470.00L558.70,468.00L576.90,470.00L634.70,399.40L656.00,399.40" stroke="#f25a5a" stroke-width="0.9"/>
<path d="M522.20,470.90L540.40,471.00L558.70,470.00L576.90,468.00L613.40,439.50L634.70,399.40" stroke="#f25a5a" stroke-width="0.9"/>
<path d="M522.20,470.90L540.40,472.00L558.70,474.00L576.90,473.00L613.40,430.00" stroke="#a9a9a9" stroke-width="0.6"/>
<path d="M522.20,470.90L540.40,468.00L558.70,470.00L576.90,474.00L613.40,444.30L634.70,435.60L656.00,446.40" stroke="#a9a9a9" stroke-width="0.6"/>
<path d="M522.20,470.90L540.40,473.00L558.70,473.00L576.90,475.00L613.40,454.10" stroke="#a9a9a9" stroke-width="0.6"/>
<path d="M522.20,470.90L540.40,469.00L558.70,466.00L576.90,470.00L613.40,462.90L634.70,456.00" stroke="#f25a5a" stroke-width="0.9"/>
<path d="M522.20,470.90L540.40,472.00L558.70,471.00L576.90,474.00L613.40,466.00" stroke="#f25a5a" stroke-width="0.9"/>
<path d="M522.20,470.90L540.40,474.00L558.70,475.00L576.90,476.50" stroke="#a9a9a9" stroke-width="0.6"/>
<path d="M522.20,470.90L540.40,474.00L558.70,466.00L576.90,470.00L613.40,437.00" stroke="#a9a9a9" stroke-width="0.6"/>
<path d="M522.20,470.90L540.40,467.00L558.70,467.00L576.90,464.00L613.40,398.00" stroke="#f25a5a" stroke-width="0.9"/>
</g>
<path d="M520.70,472.20L522.20,469.50L523.70,472.20Z" fill="#c4d5ee" stroke="#7099d2" stroke-width="0.8"/>
<path d="M538.90,398.50L540.40,395.80L541.90,398.50Z" fill="#c4d5ee" stroke="#7099d2" stroke-width="0.8"/>
<path d="M557.20,470.30L558.70,467.60L560.20,470.30Z" fill="#c4d5ee" stroke="#7099d2" stroke-width="0.8"/>
<path d="M575.40,473.30L576.90,470.60L578.40,473.30Z" fill="#c4d5ee" stroke="#7099d2" stroke-width="0.8"/>
<path d="M520.70,472.20L522.20,469.50L523.70,472.20Z" fill="#c4d5ee" stroke="#7099d2" stroke-width="0.8"/>
<path d="M538.90,435.70L540.40,433.00L541.90,435.70Z" fill="#c4d5ee" stroke="#7099d2" stroke-width="0.8"/>
<path d="M557.20,424.30L558.70,421.60L560.20,424.30Z" fill="#c4d5ee" stroke="#7099d2" stroke-width="0.8"/>
<path d="M575.40,473.70L576.90,471.00L578.40,473.70Z" fill="#c4d5ee" stroke="#7099d2" stroke-width="0.8"/>
<path d="M520.70,472.20L522.20,469.50L523.70,472.20Z" fill="#c4d5ee" stroke="#7099d2" stroke-width="0.8"/>
<path d="M538.90,471.30L540.40,468.60L541.90,471.30Z" fill="#c4d5ee" stroke="#7099d2" stroke-width="0.8"/>
<path d="M557.20,463.30L558.70,460.60L560.20,463.30Z" fill="#c4d5ee" stroke="#7099d2" stroke-width="0.8"/>
<path d="M575.40,472.30L576.90,469.60L578.40,472.30Z" fill="#c4d5ee" stroke="#7099d2" stroke-width="0.8"/>
<path d="M611.90,362.60L613.40,359.90L614.90,362.60Z" fill="#c4d5ee" stroke="#7099d2" stroke-width="0.8"/>
<path d="M633.20,329.70L634.70,327.00L636.20,329.70Z" fill="#c4d5ee" stroke="#7099d2" stroke-width="0.8"/>
<path d="M654.50,350.70L656.00,348.00L657.50,350.70Z" fill="#c4d5ee" stroke="#7099d2" stroke-width="0.8"/>
<path d="M520.70,472.20L522.20,469.50L523.70,472.20Z" fill="#c4d5ee" stroke="#7099d2" stroke-width="0.8"/>
<path d="M538.90,467.10L540.40,464.40L541.90,467.10Z" fill="#c4d5ee" stroke="#7099d2" stroke-width="0.8"/>
<path d="M557.20,464.20L558.70,461.50L560.20,464.20Z" fill="#c4d5ee" stroke="#7099d2" stroke-width="0.8"/>
<path d="M575.40,464.20L576.90,461.50L578.40,464.20Z" fill="#c4d5ee" stroke="#7099d2" stroke-width="0.8"/>
<path d="M611.90,397.70L613.40,395.00L614.90,397.70Z" fill="#c4d5ee" stroke="#7099d2" stroke-width="0.8"/>
<path d="M633.20,398.50L634.70,395.80L636.20,398.50Z" fill="#c4d5ee" stroke="#7099d2" stroke-width="0.8"/>
<path d="M520.70,472.20L522.20,469.50L523.70,472.20Z" fill="#c4d5ee" stroke="#7099d2" stroke-width="0.8"/>
<path d="M538.90,471.30L540.40,468.60L541.90,471.30Z" fill="#c4d5ee" stroke="#7099d2" stroke-width="0.8"/>
<path d="M557.20,469.30L558.70,466.60L560.20,469.30Z" fill="#c4d5ee" stroke="#7099d2" stroke-width="0.8"/>
<path d="M575.40,471.30L576.90,468.60L578.40,471.30Z" fill="#c4d5ee" stroke="#7099d2" stroke-width="0.8"/>
<path d="M633.20,400.70L634.70,398.00L636.20,400.70Z" fill="#c4d5ee" stroke="#7099d2" stroke-width="0.8"/>
<path d="M654.50,400.70L656.00,398.00L657.50,400.70Z" fill="#c4d5ee" stroke="#7099d2" stroke-width="0.8"/>
<path d="M520.70,472.20L522.20,469.50L523.70,472.20Z" fill="#c4d5ee" stroke="#7099d2" stroke-width="0.8"/>
<path d="M538.90,472.30L540.40,469.60L541.90,472.30Z" fill="#c4d5ee" stroke="#7099d2" stroke-width="0.8"/>
<path d="M557.20,471.30L558.70,468.60L560.20,471.30Z" fill="#c4d5ee" stroke="#7099d2" stroke-width="0.8"/>
<path d="M575.40,469.30L576.90,466.60L578.40,469.30Z" fill="#c4d5ee" stroke="#7099d2" stroke-width="0.8"/>
<path d="M611.90,440.80L613.40,438.10L614.90,440.80Z" fill="#c4d5ee" stroke="#7099d2" stroke-width="0.8"/>
<path d="M633.20,400.70L634.70,398.00L636.20,400.70Z" fill="#c4d5ee" stroke="#7099d2" stroke-width="0.8"/>
<path d="M520.70,472.20L522.20,469.50L523.70,472.20Z" fill="#c4d5ee" stroke="#7099d2" stroke-width="0.8"/>
<path d="M538.90,473.30L540.40,470.60L541.90,473.30Z" fill="#c4d5ee" stroke="#7099d2" stroke-width="0.8"/>
<path d="M557.20,475.30L558.70,472.60L560.20,475.30Z" fill="#c4d5ee" stroke="#7099d2" stroke-width="0.8"/>
<path d="M575.40,474.30L576.90,471.60L578.40,474.30Z" fill="#c4d5ee" stroke="#7099d2" stroke-width="0.8"/>
<path d="M611.90,431.30L613.40,428.60L614.90,431.30Z" fill="#c4d5ee" stroke="#7099d2" stroke-width="0.8"/>
<path d="M520.70,472.20L522.20,469.50L523.70,472.20Z" fill="#c4d5ee" stroke="#7099d2" stroke-width="0.8"/>
<path d="M538.90,469.30L540.40,466.60L541.90,469.30Z" fill="#c4d5ee" stroke="#7099d2" stroke-width="0.8"/>
<path d="M557.20,471.30L558.70,468.60L560.20,471.30Z" fill="#c4d5ee" stroke="#7099d2" stroke-width="0.8"/>
<path d="M575.40,475.30L576.90,472.60L578.40,475.30Z" fill="#c4d5ee" stroke="#7099d2" stroke-width="0.8"/>
<path d="M611.90,445.60L613.40,442.90L614.90,445.60Z" fill="#c4d5ee" stroke="#7099d2" stroke-width="0.8"/>
<path d="M633.20,436.90L634.70,434.20L636.20,436.90Z" fill="#c4d5ee" stroke="#7099d2" stroke-width="0.8"/>
<path d="M654.50,447.70L656.00,445.00L657.50,447.70Z" fill="#c4d5ee" stroke="#7099d2" stroke-width="0.8"/>
<path d="M520.70,472.20L522.20,469.50L523.70,472.20Z" fill="#c4d5ee" stroke="#7099d2" stroke-width="0.8"/>
<path d="M538.90,474.30L540.40,471.60L541.90,474.30Z" fill="#c4d5ee" stroke="#7099d2" stroke-width="0.8"/>
<path d="M557.20,474.30L558.70,471.60L560.20,474.30Z" fill="#c4d5ee" stroke="#7099d2" stroke-width="0.8"/>
<path d="M575.40,476.30L576.90,473.60L578.40,476.30Z" fill="#c4d5ee" stroke="#7099d2" stroke-width="0.8"/>
<path d="M611.90,455.40L613.40,452.70L614.90,455.40Z" fill="#c4d5ee" stroke="#7099d2" stroke-width="0.8"/>
<path d="M520.70,472.20L522.20,469.50L523.70,472.20Z" fill="#c4d5ee" stroke="#7099d2" stroke-width="0.8"/>
<path d="M538.90,470.30L540.40,467.60L541.90,470.30Z" fill="#c4d5ee" stroke="#7099d2" stroke-width="0.8"/>
<path d="M557.20,467.30L558.70,464.60L560.20,467.30Z" fill="#c4d5ee" stroke="#7099d2" stroke-width="0.8"/>
<path d="M575.40,471.30L576.90,468.60L578.40,471.30Z" fill="#c4d5ee" stroke="#7099d2" stroke-width="0.8"/>
<path d="M611.90,464.20L613.40,461.50L614.90,464.20Z" fill="#c4d5ee" stroke="#7099d2" stroke-width="0.8"/>
<path d="M633.20,457.30L634.70,454.60L636.20,457.30Z" fill="#c4d5ee" stroke="#7099d2" stroke-width="0.8"/>
<path d="M520.70,472.20L522.20,469.50L523.70,472.20Z" fill="#c4d5ee" stroke="#7099d2" stroke-width="0.8"/>
<path d="M538.90,473.30L540.40,470.60L541.90,473.30Z" fill="#c4d5ee" stroke="#7099d2" stroke-width="0.8"/>
<path d="M557.20,472.30L558.70,469.60L560.20,472.30Z" fill="#c4d5ee" stroke="#7099d2" stroke-width="0.8"/>
<path d="M575.40,475.30L576.90,472.60L578.40,475.30Z" fill="#c4d5ee" stroke="#7099d2" stroke-width="0.8"/>
<path d="M611.90,467.30L613.40,464.60L614.90,467.30Z" fill="#c4d5ee" stroke="#7099d2" stroke-width="0.8"/>
<path d="M520.70,472.20L522.20,469.50L523.70,472.20Z" fill="#c4d5ee" stroke="#7099d2" stroke-width="0.8"/>
<path d="M538.90,475.30L540.40,472.60L541.90,475.30Z" fill="#c4d5ee" stroke="#7099d2" stroke-width="0.8"/>
<path d="M557.20,476.30L558.70,473.60L560.20,476.30Z" fill="#c4d5ee" stroke="#7099d2" stroke-width="0.8"/>
<path d="M575.40,477.80L576.90,475.10L578.40,477.80Z" fill="#c4d5ee" stroke="#7099d2" stroke-width="0.8"/>
<path d="M520.70,472.20L522.20,469.50L523.70,472.20Z" fill="#c4d5ee" stroke="#7099d2" stroke-width="0.8"/>
<path d="M538.90,475.30L540.40,472.60L541.90,475.30Z" fill="#c4d5ee" stroke="#7099d2" stroke-width="0.8"/>
<path d="M557.20,467.30L558.70,464.60L560.20,467.30Z" fill="#c4d5ee" stroke="#7099d2" stroke-width="0.8"/>
<path d="M575.40,471.30L576.90,468.60L578.40,471.30Z" fill="#c4d5ee" stroke="#7099d2" stroke-width="0.8"/>
<path d="M611.90,438.30L613.40,435.60L614.90,438.30Z" fill="#c4d5ee" stroke="#7099d2" stroke-width="0.8"/>
<path d="M520.70,472.20L522.20,469.50L523.70,472.20Z" fill="#c4d5ee" stroke="#7099d2" stroke-width="0.8"/>
<path d="M538.90,468.30L540.40,465.60L541.90,468.30Z" fill="#c4d5ee" stroke="#7099d2" stroke-width="0.8"/>
<path d="M557.20,468.30L558.70,465.60L560.20,468.30Z" fill="#c4d5ee" stroke="#7099d2" stroke-width="0.8"/>
<path d="M575.40,465.30L576.90,462.60L578.40,465.30Z" fill="#c4d5ee" stroke="#7099d2" stroke-width="0.8"/>
<path d="M611.90,399.30L613.40,396.60L614.90,399.30Z" fill="#c4d5ee" stroke="#7099d2" stroke-width="0.8"/>
<line x1="509.9" y1="320.1" x2="509.9" y2="400.1" stroke="#000" stroke-width="1.3"/>
<line x1="509.9" y1="405.2" x2="509.9" y2="478.2" stroke="#000" stroke-width="1.3"/>
<line x1="507.59999999999997" y1="400.1" x2="512.1999999999999" y2="400.1" stroke="#000" stroke-width="1.2"/>
<line x1="507.59999999999997" y1="405.2" x2="512.1999999999999" y2="405.2" stroke="#000" stroke-width="1.2"/>
<line x1="509.9" y1="478.2" x2="668.5" y2="478.2" stroke="#000" stroke-width="1.3"/>
<line x1="522.2" y1="478.2" x2="522.2" y2="480.8" stroke="#000" stroke-width="1"/>
<line x1="540.4" y1="478.2" x2="540.4" y2="480.8" stroke="#000" stroke-width="1"/>
<line x1="558.7" y1="478.2" x2="558.7" y2="480.8" stroke="#000" stroke-width="1"/>
<line x1="576.9" y1="478.2" x2="576.9" y2="480.8" stroke="#000" stroke-width="1"/>
<line x1="613.4" y1="478.2" x2="613.4" y2="480.8" stroke="#000" stroke-width="1"/>
<line x1="634.7" y1="478.2" x2="634.7" y2="480.8" stroke="#000" stroke-width="1"/>
<line x1="656" y1="478.2" x2="656" y2="480.8" stroke="#000" stroke-width="1"/>
<line x1="507.09999999999997" y1="320.1" x2="509.9" y2="320.1" stroke="#000" stroke-width="1"/>
<text x="505.30" y="322.40" font-size="6.55" font-weight="bold" text-anchor="end" fill="#000" >800</text>
<line x1="507.09999999999997" y1="340.3" x2="509.9" y2="340.3" stroke="#000" stroke-width="1"/>
<text x="505.30" y="342.60" font-size="6.55" font-weight="bold" text-anchor="end" fill="#000" >600</text>
<line x1="507.09999999999997" y1="360.8" x2="509.9" y2="360.8" stroke="#000" stroke-width="1"/>
<text x="505.30" y="363.10" font-size="6.55" font-weight="bold" text-anchor="end" fill="#000" >400</text>
<line x1="507.09999999999997" y1="381.1" x2="509.9" y2="381.1" stroke="#000" stroke-width="1"/>
<text x="505.30" y="383.40" font-size="6.55" font-weight="bold" text-anchor="end" fill="#000" >200</text>
<line x1="507.09999999999997" y1="405.2" x2="509.9" y2="405.2" stroke="#000" stroke-width="1"/>
<text x="505.30" y="407.50" font-size="6.55" font-weight="bold" text-anchor="end" fill="#000" >10</text>
<line x1="507.09999999999997" y1="441.8" x2="509.9" y2="441.8" stroke="#000" stroke-width="1"/>
<text x="505.30" y="444.10" font-size="6.55" font-weight="bold" text-anchor="end" fill="#000" >5</text>
<line x1="507.09999999999997" y1="478.2" x2="509.9" y2="478.2" stroke="#000" stroke-width="1"/>
<text x="505.30" y="480.50" font-size="6.55" font-weight="bold" text-anchor="end" fill="#000" >0</text>
<text x="519.10" y="492.50" font-size="7.05" font-weight="bold" text-anchor="end" fill="#000" transform="rotate(-45 519.10 492.50)">T0</text>
<text x="538.20" y="493.10" font-size="7.05" font-weight="bold" text-anchor="end" fill="#000" transform="rotate(-45 538.20 493.10)">8h</text>
<text x="557.30" y="492.50" font-size="7.05" font-weight="bold" text-anchor="end" fill="#000" transform="rotate(-45 557.30 492.50)">24h</text>
<text x="573.60" y="491.90" font-size="7.05" font-weight="bold" text-anchor="end" fill="#000" transform="rotate(-45 573.60 491.90)">D7</text>
<text x="616.30" y="490.00" font-size="7.05" font-weight="bold" text-anchor="end" fill="#000" transform="rotate(-45 616.30 490.00)">Month 6-14</text>
<text x="638.60" y="489.50" font-size="7.05" font-weight="bold" text-anchor="end" fill="#000" transform="rotate(-45 638.60 489.50)">Month 12-20</text>
<text x="660.10" y="489.20" font-size="7.05" font-weight="bold" text-anchor="end" fill="#000" transform="rotate(-45 660.10 489.20)">Month 18-20</text>
<text x="520.10" y="313.10" font-size="7.1" font-weight="bold" text-anchor="middle" fill="#000" >1</text>
<text x="539.00" y="313.10" font-size="7.1" font-weight="bold" text-anchor="middle" fill="#000" >1.09</text>
<text x="557.00" y="313.10" font-size="7.1" font-weight="bold" text-anchor="middle" fill="#000" >1.00</text>
<text x="574.90" y="313.10" font-size="7.1" font-weight="bold" text-anchor="middle" fill="#000" >0.93</text>
<text x="612.40" y="313.10" font-size="7.1" font-weight="bold" text-anchor="middle" fill="#000" >5.43</text>
<text x="635.40" y="313.10" font-size="7.1" font-weight="bold" text-anchor="middle" fill="#000" >14.56</text>
<text x="658.40" y="313.10" font-size="7.1" font-weight="bold" text-anchor="middle" fill="#000" >22.57</text>
<text x="558.50" y="285.80" font-size="9.7" font-weight="bold" text-anchor="middle" fill="#000" >Maximum allergen-dependent sIgG4/sIgE ratios in VAP</text>
<text x="558.70" y="297.40" font-size="9.7" font-weight="bold" text-anchor="middle" fill="#000" >Ratios relative to baseline</text>
<text x="595.40" y="530.90" font-size="8.4" font-weight="bold" text-anchor="middle" fill="#000" >Time post AIT</text>
<text x="480.50" y="385.80" font-size="9.5" font-weight="bold" text-anchor="middle" fill="#000" transform="rotate(-90 480.5 385.8)">Ratio with T0</text>
<text x="-0.80" y="9.60" font-size="14" font-weight="bold" text-anchor="start" fill="#000" >a</text>
<text x="224.60" y="9.60" font-size="13" font-weight="bold" text-anchor="start" fill="#000" >b</text>
<text x="460.00" y="9.80" font-size="13" font-weight="bold" text-anchor="start" fill="#000" >c</text>
<line x1="149.2" y1="17.9" x2="189.6" y2="17.9" stroke="#e8262a" stroke-width="1.3"/>
<text x="194.10" y="21.60" font-size="10.35" text-anchor="start" fill="#000" >Clinical cure confirmed</text>
<line x1="378.7" y1="17.9" x2="418.4" y2="17.9" stroke="#7a7a7a" stroke-width="1.3"/>
<text x="424.60" y="21.60" font-size="10.6" text-anchor="start" fill="#000" >Outcome unknown yet</text>
<text x="-0.30" y="546.40" font-size="13" font-weight="bold" text-anchor="start" fill="#000" >d</text>
<text x="75.00" y="560.50" font-size="13.5" font-weight="bold" text-anchor="middle" fill="#1530e6" >Venom allergy</text>
<text x="358.50" y="560.50" font-size="13.84" font-weight="bold" text-anchor="middle" fill="#1530e6" >Early immune responses upon venom AIT launch</text>
<text x="620.30" y="560.50" font-size="13.6" font-weight="bold" text-anchor="middle" fill="#1530e6" >Clinical cure</text>
<rect x="13.8" y="566.6" width="121.1" height="259.2" rx="5.5" fill="#cfd5ea" stroke="#33437a" stroke-width="1.3"/>
<rect x="138.2" y="566.6" width="416" height="259.2" rx="5.5" fill="#e9e9e9" stroke="#4a4a4a" stroke-width="1.3"/>
<rect x="557.6" y="566.6" width="123" height="259.2" rx="5.5" fill="#dff3d6" stroke="#428233" stroke-width="1.3"/>
<defs><linearGradient id="gr" x1="0" y1="0" x2="0" y2="1"><stop offset="0" stop-color="#a4283c"/><stop offset="0.55" stop-color="#b04a5a" stop-opacity="0.8"/><stop offset="1" stop-color="#cfd5ea" stop-opacity="0"/></linearGradient><linearGradient id="gb" x1="0" y1="0" x2="0" y2="1"><stop offset="0" stop-color="#cfd5ea" stop-opacity="0"/><stop offset="0.35" stop-color="#3a5398" stop-opacity="0.7"/><stop offset="1" stop-color="#173880"/></linearGradient></defs>
<path d="M23,587 L24.6,587 L24.2,673 L23.4,673 Z" fill="url(#gr)"/>
<path d="M17.9,587.8 L23.9,575.7 L30,587.8 Z" fill="#a4283c"/>
<path d="M23.5,692 L24.3,692 L24.8,781 L23.2,781 Z" fill="url(#gb)"/>
<path d="M17.7,780.3 L30.1,780.3 L24,792.2 Z" fill="#173880"/>
<circle cx="51.9" cy="612.8" r="19.2" fill="#fde0b8" stroke="#e6a874" stroke-width="0.8"/>
<circle cx="54.6" cy="613.2" r="12.8" fill="#f2b58d"/>
<text x="54.80" y="616.60" font-size="10" text-anchor="middle" fill="#111" >Th2</text>
<path d="M116.65,596.80 L116.90,597.53 L116.94,598.27 L116.79,599.00 L116.51,599.70 L116.19,600.38 L115.89,601.05 L115.64,601.72 L115.44,602.40 L115.27,603.09 L115.07,603.78 L114.83,604.45 L114.55,605.10 L114.24,605.75 L113.96,606.40 L113.72,607.09 L113.51,607.80 L113.30,608.54 L113.03,609.25 L112.64,609.88 L112.10,610.39 L111.41,610.77 L110.63,611.03 L109.84,611.24 L109.12,611.48 L108.53,611.85 L108.07,612.38 L107.72,613.06 L107.39,613.83 L107.01,614.58 L106.52,615.19 L105.89,615.58 L105.14,615.74 L104.31,615.70 L103.48,615.56 L102.68,615.44 L101.95,615.43 L101.29,615.59 L100.66,615.89 L100.04,616.28 L99.40,616.67 L98.74,616.98 L98.04,617.17 L97.33,617.24 L96.61,617.23 L95.90,617.17 L95.19,617.12 L94.48,617.06 L93.78,616.99 L93.08,616.87 L92.40,616.67 L91.74,616.39 L91.10,616.07 L90.46,615.77 L89.81,615.54 L89.12,615.44 L88.36,615.45 L87.56,615.53 L86.74,615.57 L85.97,615.48 L85.28,615.19 L84.73,614.67 L84.31,613.98 L83.98,613.21 L83.66,612.47 L83.27,611.85 L82.75,611.40 L82.09,611.11 L81.30,610.90 L80.47,610.69 L79.70,610.39 L79.07,609.95 L78.62,609.35 L78.35,608.64 L78.19,607.86 L78.08,607.09 L77.94,606.35 L77.72,605.67 L77.42,605.03 L77.07,604.41 L76.73,603.78 L76.42,603.13 L76.18,602.45 L75.98,601.77 L75.80,601.07 L75.61,600.38 L75.40,599.68 L75.19,598.98 L75.04,598.26 L75.02,597.53 L75.15,596.80 L75.45,596.09 L75.84,595.40 L76.25,594.73 L76.56,594.08 L76.69,593.41 L76.64,592.71 L76.44,591.95 L76.19,591.15 L76.04,590.35 L76.08,589.59 L76.38,588.91 L76.91,588.35 L77.60,587.88 L78.33,587.46 L78.98,587.03 L79.48,586.54 L79.81,585.94 L80.00,585.25 L80.14,584.49 L80.31,583.72 L80.59,583.01 L81.00,582.41 L81.52,581.91 L82.12,581.50 L82.75,581.13 L83.37,580.76 L83.97,580.38 L84.56,579.98 L85.15,579.60 L85.77,579.25 L86.41,578.96 L87.08,578.71 L87.73,578.45 L88.36,578.15 L88.97,577.75 L89.55,577.27 L90.15,576.75 L90.78,576.27 L91.47,575.94 L92.20,575.81 L92.96,575.91 L93.74,576.20 L94.49,576.58 L95.21,576.90 L95.90,577.07 L96.59,577.01 L97.30,576.76 L98.05,576.39 L98.82,576.03 L99.60,575.81 L100.36,575.83 L101.06,576.10 L101.70,576.58 L102.28,577.16 L102.83,577.75 L103.39,578.25 L103.99,578.62 L104.64,578.87 L105.33,579.06 L106.03,579.25 L106.71,579.50 L107.35,579.83 L107.94,580.23 L108.50,580.67 L109.05,581.13 L109.60,581.58 L110.15,582.04 L110.67,582.54 L111.13,583.09 L111.49,583.72 L111.75,584.42 L111.95,585.14 L112.15,585.84 L112.41,586.48 L112.82,587.03 L113.37,587.51 L114.03,587.96 L114.72,588.42 L115.32,588.95 L115.72,589.59 L115.87,590.31 L115.78,591.10 L115.54,591.90 L115.27,592.68 L115.11,593.41 L115.13,594.10 L115.37,594.75 L115.78,595.41 L116.24,596.09Z" fill="#cdb8e8" stroke="#b99cdc" stroke-width="0.8"/>
<path transform="translate(95.9,596.6)" d="M0.2,0.1 C0,-5 2,-10.5 6.8,-10.5 C12,-10.5 16,-5 15.5,-1 C15,8 7,15 -2,15.8 C-9,16.3 -13,12 -12.9,7.4 C-12.5,2 -7,0 -3,0.5 C-1.5,0.6 -0.3,0.5 0.2,0.1 Z" fill="#ab8fc9"/>
<text x="96.90" y="599.40" font-size="10" text-anchor="middle" fill="#111" >cMono</text>
<circle cx="60" cy="657.7" r="20.1" fill="#c77744" stroke="#9c5530" stroke-width="0.8"/>
<circle cx="61.5" cy="659" r="12.5" fill="#b5622e"/>
<text x="61.20" y="657.00" font-size="10" text-anchor="middle" fill="#fff" >CD8</text>
<text x="61.20" y="669.30" font-size="10" text-anchor="middle" fill="#fff" >Tc2</text>
<path d="M122.10,648.00 L122.24,648.58 L123.30,649.24 L125.27,650.08 L127.86,651.14 L125.17,651.47 L123.13,651.75 L122.00,652.11 L121.74,652.66 L121.43,653.18 L121.10,653.68 L120.75,654.16 L120.40,654.63 L120.06,655.10 L119.74,655.57 L119.44,656.05 L119.17,656.54 L118.93,657.06 L119.32,658.04 L120.31,659.57 L121.66,661.56 L119.70,660.78 L118.21,660.27 L117.31,660.23 L116.93,660.69 L116.49,661.10 L116.01,661.46 L115.49,661.76 L114.95,662.01 L114.38,662.21 L113.80,662.38 L113.22,662.52 L112.65,662.66 L112.09,662.80 L111.86,663.75 L111.90,665.58 L112.03,668.09 L110.68,666.08 L109.65,664.66 L108.92,664.09 L108.38,664.35 L107.83,664.59 L107.27,664.80 L106.69,664.96 L106.10,665.07 L105.50,665.10 L104.90,665.07 L104.31,664.96 L103.71,665.07 L102.95,666.12 L102.01,667.79 L101.76,665.60 L101.49,664.08 L101.04,663.57 L100.52,663.34 L99.99,663.13 L99.46,662.95 L98.91,662.80 L98.35,662.66 L97.78,662.52 L97.20,662.38 L96.62,662.21 L95.62,662.65 L94.12,663.66 L92.22,665.00 L93.00,662.90 L93.56,661.27 L93.69,660.23 L93.35,659.74 L93.05,659.21 L92.78,658.67 L92.54,658.12 L92.31,657.58 L92.07,657.06 L91.83,656.54 L91.56,656.05 L91.26,655.57 L90.40,655.36 L88.93,655.38 L87.01,655.47 L88.18,654.30 L88.99,653.36 L89.26,652.66 L89.00,652.11 L88.80,651.55 L88.66,650.97 L88.59,650.38 L88.59,649.78 L88.65,649.18 L88.53,648.59 L87.58,648.00 L86.07,647.32 L87.91,646.77 L89.17,646.28 L89.53,645.76 L89.64,645.20 L89.73,644.65 L89.79,644.08 L89.83,643.51 L89.86,642.92 L88.85,641.94 L86.82,640.45 L84.13,638.48 L87.16,639.06 L89.43,639.46 L90.69,639.45 L91.02,638.95 L91.40,638.49 L91.83,638.07 L92.30,637.68 L92.78,637.33 L93.28,637.00 L93.77,636.67 L94.25,636.35 L94.31,635.57 L93.98,634.27 L93.42,632.54 L94.91,633.42 L96.04,633.98 L96.79,634.05 L97.20,633.62 L97.63,633.21 L98.09,632.82 L98.58,632.47 L99.10,632.17 L99.65,631.93 L100.22,631.76 L100.81,631.65 L101.41,631.61 L101.97,631.39 L102.39,630.35 L102.79,628.74 L103.66,630.47 L104.35,631.62 L104.94,631.89 L105.50,631.90 L106.06,631.89 L106.63,631.84 L107.20,631.78 L107.79,631.71 L108.38,631.65 L109.05,631.31 L110.03,629.85 L111.32,627.70 L112.05,627.85 L111.97,630.23 L112.01,631.88 L112.42,632.47 L112.91,632.82 L113.37,633.21 L113.80,633.62 L114.21,634.05 L114.62,634.48 L115.02,634.90 L115.43,635.29 L115.85,635.67 L116.29,636.02 L117.23,635.85 L118.73,635.22 L120.69,634.32 L119.82,635.99 L119.25,637.26 L119.17,638.07 L119.60,638.49 L119.98,638.95 L120.31,639.45 L120.58,639.98 L120.78,640.55 L120.93,641.13 L121.03,641.72 L121.10,642.32 L121.14,642.92 L121.17,643.51 L121.44,644.03 L122.57,644.37 L124.31,644.68 L122.78,645.57 L121.83,646.28 L121.77,646.86 L121.94,647.43Z" fill="#c8942e" stroke="#a97822" stroke-width="0.7"/>
<circle cx="109.2" cy="651.5" r="9.8" fill="#b87b26"/>
<text x="106.10" y="637.70" font-size="9" text-anchor="middle" fill="#fff8ea" >pDC-</text>
<text x="105.50" y="649.70" font-size="9" text-anchor="middle" fill="#fff8ea" >mDC</text>
<text x="106.30" y="660.70" font-size="8.7" text-anchor="middle" fill="#fff8ea" >hybrid</text>
<circle cx="63.9" cy="724.5" r="20.8" fill="#f6a86a" stroke="#d9884a" stroke-width="0.8"/>
<circle cx="64.5" cy="727" r="12.5" fill="#ea9152"/>
<text x="64.80" y="722.50" font-size="9.9" text-anchor="middle" fill="#111" >Th1-Th17</text>
<text x="64.80" y="734.30" font-size="9.9" text-anchor="middle" fill="#111" >hybrid</text>
<circle cx="102.2" cy="753" r="20.8" fill="#fdf0c2" stroke="#e8c07c" stroke-width="0.8"/>
<circle cx="103.5" cy="755" r="12.5" fill="#f6d6a4"/>
<text x="104.80" y="748.60" font-size="9.9" text-anchor="middle" fill="#111" >CD8 Tc1-</text>
<text x="104.80" y="760.10" font-size="9.9" text-anchor="middle" fill="#111" >Tc17 hybrid</text>
<circle cx="55.9" cy="770.8" r="20.8" fill="#a9c7f0" stroke="#7fa6e0" stroke-width="0.8"/>
<circle cx="56.5" cy="771.5" r="12.5" fill="#90b5e8"/>
<text x="56.70" y="768.20" font-size="9.9" text-anchor="middle" fill="#111" >CD45RA+</text>
<text x="56.20" y="780.60" font-size="9.9" text-anchor="middle" fill="#111" >CD8 Treg</text>
<text x="72.20" y="820.60" font-size="13.2" text-anchor="middle" fill="#111" >Baseline (0h)</text>
<text x="144.20" y="581.40" font-size="11.6" text-anchor="start" fill="#111" >Serological non-inflammatory IL-6</text>
<text x="144.20" y="660.70" font-size="11.6" text-anchor="start" fill="#111" >IL-6 signalling in Th2</text>
<text x="144.20" y="742.20" font-size="11.6" text-anchor="start" fill="#111" >Late transitional/ IL-10 producing Breg</text>
<text x="169.50" y="599.60" font-size="10" text-anchor="middle" fill="#111" >IL-6</text>
<defs><radialGradient id="bd" cx="0.4" cy="0.35" r="0.7"><stop offset="0" stop-color="#7cc8e8"/><stop offset="1" stop-color="#3ea6d4"/></radialGradient><radialGradient id="bd2" cx="0.4" cy="0.35" r="0.7"><stop offset="0" stop-color="#3aaee0"/><stop offset="1" stop-color="#1a8cc0"/></radialGradient><linearGradient id="infl" x1="0" y1="0" x2="0" y2="1"><stop offset="0" stop-color="#f08a8a"/><stop offset="1" stop-color="#f7d2d2"/></linearGradient></defs>
<circle cx="155.3" cy="606" r="5.6" fill="url(#bd)"/>
<circle cx="167.2" cy="609.2" r="5.6" fill="url(#bd2)"/>
<circle cx="155.3" cy="621.8" r="5.6" fill="url(#bd)"/>
<circle cx="173" cy="625.3" r="5.6" fill="url(#bd)"/>
<circle cx="183.5" cy="616" r="5.6" fill="#cde6ee"/>
<rect x="216" y="586.3" width="190.8" height="9.8" fill="url(#infl)"/>
<line x1="216" y1="596.6" x2="406.8" y2="596.6" stroke="#777" stroke-width="0.7" stroke-dasharray="1.2,1.6"/>
<text x="311.50" y="595.20" font-size="9.9" text-anchor="middle" fill="#111" >inflammatory level</text>
<line x1="215" y1="587.2" x2="215" y2="637.2" stroke="#111" stroke-width="1.3"/>
<line x1="214.4" y1="637.2" x2="405.8" y2="637.2" stroke="#111" stroke-width="1.3"/>
<line x1="208.2" y1="587.1" x2="215" y2="587.1" stroke="#222" stroke-width="0.8"/>
<line x1="208.2" y1="596.3" x2="215" y2="596.3" stroke="#222" stroke-width="0.8"/>
<line x1="208.2" y1="605.4" x2="215" y2="605.4" stroke="#222" stroke-width="0.8"/>
<line x1="208.2" y1="614.5" x2="215" y2="614.5" stroke="#222" stroke-width="0.8"/>
<line x1="208.2" y1="623.9" x2="215" y2="623.9" stroke="#222" stroke-width="0.8"/>
<line x1="208.2" y1="633.1" x2="215" y2="633.1" stroke="#222" stroke-width="0.8"/>
<line x1="226.5" y1="637.2" x2="226.5" y2="639.2" stroke="#222" stroke-width="0.7"/>
<line x1="256.2" y1="637.2" x2="256.2" y2="639.2" stroke="#222" stroke-width="0.7"/>
<line x1="305.6" y1="637.2" x2="305.6" y2="639.2" stroke="#222" stroke-width="0.7"/>
<line x1="396.1" y1="637.2" x2="396.1" y2="639.2" stroke="#222" stroke-width="0.7"/>
<path d="M216,628.8 C228,628.5 236,624 244,613 C250,605 254,601 259,601.2 C266,601.5 270,605 280,608 C310,617 360,626 405.6,630.8" fill="none" stroke="#4a5fa8" stroke-width="1.4"/>
<line x1="215" y1="671.4" x2="215" y2="722.9" stroke="#111" stroke-width="1.3"/>
<line x1="214.4" y1="722.9" x2="406.4" y2="722.9" stroke="#111" stroke-width="1.3"/>
<line x1="208.2" y1="671.8" x2="215" y2="671.8" stroke="#222" stroke-width="0.8"/>
<line x1="208.2" y1="681.3" x2="215" y2="681.3" stroke="#222" stroke-width="0.8"/>
<line x1="208.2" y1="690.7" x2="215" y2="690.7" stroke="#222" stroke-width="0.8"/>
<line x1="208.2" y1="700.2" x2="215" y2="700.2" stroke="#222" stroke-width="0.8"/>
<line x1="208.2" y1="709.4" x2="215" y2="709.4" stroke="#222" stroke-width="0.8"/>
<line x1="208.2" y1="718.8" x2="215" y2="718.8" stroke="#222" stroke-width="0.8"/>
<line x1="226.5" y1="722.9" x2="226.5" y2="724.9" stroke="#222" stroke-width="0.7"/>
<line x1="256.2" y1="722.9" x2="256.2" y2="724.9" stroke="#222" stroke-width="0.7"/>
<line x1="305.6" y1="722.9" x2="305.6" y2="724.9" stroke="#222" stroke-width="0.7"/>
<line x1="396.1" y1="722.9" x2="396.1" y2="724.9" stroke="#222" stroke-width="0.7"/>
<path d="M216,711.8 C228,711 236,706 244,693 C252,680 258,675.5 269.7,675.5 C285,675.5 300,680 318,685 C340,692 360,700 380,705 C392,708 400,709.5 406.4,710.5" fill="none" stroke="#4a5fa8" stroke-width="1.4"/>
<line x1="212.5" y1="756.3" x2="212.5" y2="804.8" stroke="#111" stroke-width="1.3"/>
<line x1="211.9" y1="804.8" x2="401.5" y2="804.8" stroke="#111" stroke-width="1.3"/>
<line x1="205.7" y1="756.1" x2="212.5" y2="756.1" stroke="#222" stroke-width="0.8"/>
<line x1="205.7" y1="765.2" x2="212.5" y2="765.2" stroke="#222" stroke-width="0.8"/>
<line x1="205.7" y1="774.3" x2="212.5" y2="774.3" stroke="#222" stroke-width="0.8"/>
<line x1="205.7" y1="783.6" x2="212.5" y2="783.6" stroke="#222" stroke-width="0.8"/>
<line x1="205.7" y1="792.7" x2="212.5" y2="792.7" stroke="#222" stroke-width="0.8"/>
<line x1="205.7" y1="802.1" x2="212.5" y2="802.1" stroke="#222" stroke-width="0.8"/>
<path d="M212.5,795 C218,796.5 225,797 232,793.5 C240,789 245,778 252,767 C258,758 266,756.5 274,757.3 C285,758.5 295,762 310,762 L404,761.8" fill="none" stroke="#4a5fa8" stroke-width="1.4"/>
<line x1="205" y1="807.3" x2="664" y2="807.3" stroke="#111" stroke-width="2.8"/>
<path d="M663,802.5 L674,807.3 L663,812.1 Z" fill="#111"/>
<text x="228.00" y="822.80" font-size="12" text-anchor="middle" fill="#111" >0h</text>
<text x="258.20" y="822.80" font-size="12" text-anchor="middle" fill="#111" >8h</text>
<text x="309.20" y="822.80" font-size="12" text-anchor="middle" fill="#111" >24h</text>
<text x="397.20" y="822.80" font-size="12" text-anchor="middle" fill="#111" >D7</text>
<text x="621.00" y="802.10" font-size="13" text-anchor="middle" fill="#111" >AIT</text>
<text x="621.00" y="820.70" font-size="13" text-anchor="middle" fill="#111" >>3y</text>
<circle cx="169.2" cy="696.3" r="20" fill="#fbdcb3" stroke="#e7a678" stroke-width="0.8"/>
<circle cx="171.4" cy="698" r="12.1" fill="#f4c29c"/>
<path d="M151.50,691.59 L152.01,691.78 L152.51,691.76 L153.02,691.52 L153.52,691.10 L154.03,690.53 L154.53,689.89 L155.04,689.24 L155.54,688.64 L156.05,688.18 L156.55,687.89 L157.06,687.80 L157.56,687.93 L158.07,688.27 L158.57,688.77 L159.08,689.38 L159.58,690.04 L160.09,690.67 L160.59,691.21 L161.10,691.59 L161.60,691.78 L162.11,691.76 L162.61,691.52 L163.12,691.10 L163.62,690.54 L164.13,689.89 L164.63,689.24 L165.14,688.65 L165.64,688.18 L166.15,687.89 L166.66,687.80 L167.16,687.93 L167.67,688.27 L168.17,688.77 L168.68,689.38 L169.18,690.04 L169.69,690.67 L170.19,691.21 L170.70,691.59 L171.20,691.78 L171.71,691.76 L172.21,691.52 L172.72,691.10 L173.22,690.54 L173.73,689.89 L174.23,689.24 L174.74,688.65 L175.24,688.18 L175.75,687.89 L176.25,687.80 L176.76,687.93 L177.26,688.27 L177.77,688.77 L178.27,689.38 L178.78,690.03 L179.28,690.67 L179.79,691.20 L180.29,691.59 L180.80,691.78" fill="none" stroke="#6e1c1c" stroke-width="1.3"/>
<path d="M160.50,697.22 L161.01,697.64 L161.51,697.86 L162.02,697.88 L162.52,697.68 L163.03,697.29 L163.53,696.75 L164.04,696.11 L164.54,695.45 L165.05,694.85 L165.55,694.35 L166.06,694.02 L166.56,693.90 L167.07,693.99 L167.57,694.29 L168.08,694.77 L168.59,695.36 L169.09,696.02 L169.60,696.66 L170.10,697.22 L170.61,697.64 L171.11,697.86 L171.62,697.88 L172.12,697.68 L172.63,697.29 L173.13,696.74 L173.64,696.11 L174.14,695.45 L174.65,694.84 L175.16,694.35 L175.66,694.02 L176.17,693.90 L176.67,693.99 L177.18,694.29 L177.68,694.77 L178.19,695.37 L178.69,696.02 L179.20,696.66 L179.70,697.22 L180.21,697.64 L180.71,697.87 L181.22,697.88 L181.72,697.68 L182.23,697.29 L182.74,696.74 L183.24,696.11 L183.75,695.45 L184.25,694.84 L184.76,694.35 L185.26,694.02 L185.77,693.90 L186.27,694.00 L186.78,694.30 L187.28,694.77 L187.79,695.37 L188.29,696.02 L188.80,696.67" fill="none" stroke="#6e1c1c" stroke-width="1.3"/>
<path d="M151.50,704.09 L152.01,704.28 L152.51,704.26 L153.02,704.02 L153.52,703.60 L154.03,703.03 L154.53,702.39 L155.04,701.74 L155.54,701.14 L156.05,700.68 L156.55,700.39 L157.06,700.30 L157.56,700.43 L158.07,700.77 L158.57,701.27 L159.08,701.88 L159.58,702.54 L160.09,703.17 L160.59,703.71 L161.10,704.09 L161.60,704.28 L162.11,704.26 L162.61,704.02 L163.12,703.60 L163.62,703.04 L164.13,702.39 L164.63,701.74 L165.14,701.15 L165.64,700.68 L166.15,700.39 L166.66,700.30 L167.16,700.43 L167.67,700.77 L168.17,701.27 L168.68,701.88 L169.18,702.54 L169.69,703.17 L170.19,703.71 L170.70,704.09 L171.20,704.28 L171.71,704.26 L172.21,704.02 L172.72,703.60 L173.22,703.04 L173.73,702.39 L174.23,701.74 L174.74,701.15 L175.24,700.68 L175.75,700.39 L176.25,700.30 L176.76,700.43 L177.26,700.77 L177.77,701.27 L178.27,701.88 L178.78,702.53 L179.28,703.17 L179.79,703.70 L180.29,704.09 L180.80,704.28" fill="none" stroke="#6e1c1c" stroke-width="1.3"/>
<text x="170.30" y="712.60" font-size="8.4" font-weight="bold" text-anchor="middle" fill="#111" >SOCS3</text>
<circle cx="169.3" cy="777" r="19.8" fill="#4d8f2f" stroke="#3e7a24" stroke-width="0.8"/>
<circle cx="168.1" cy="775" r="11.5" fill="#3c7826"/>
<text x="168.20" y="779.00" font-size="10.2" text-anchor="middle" fill="#ffffff" >Breg</text>
<text x="484.60" y="623.30" font-size="11.5" text-anchor="middle" fill="#111" >IL-6 vs cMono</text>
<text x="484.60" y="636.60" font-size="11.5" text-anchor="middle" fill="#111" >equilibrium</text>
<line x1="437" y1="739.3" x2="437" y2="646" stroke="#222" stroke-width="1.2"/>
<path d="M434.2,647 L437,641.5 L439.8,647 Z" fill="#222"/>
<line x1="436.4" y1="739.3" x2="534" y2="739.3" stroke="#222" stroke-width="1.2"/>
<path d="M533,736.5 L538.5,739.3 L533,742.1 Z" fill="#222"/>
<line x1="443.5" y1="728.9" x2="534.6" y2="654.2" stroke="#5a6898" stroke-width="0.8"/>
<circle cx="448.1" cy="723.6" r="2.7" fill="#0f6a96"/>
<circle cx="456.1" cy="692.2" r="2.7" fill="#0f6a96"/>
<circle cx="476.1" cy="696.5" r="2.7" fill="#0f6a96"/>
<circle cx="487.5" cy="666.1" r="2.7" fill="#0f6a96"/>
<circle cx="492.6" cy="718" r="2.7" fill="#0f6a96"/>
<circle cx="503.2" cy="691" r="2.7" fill="#0f6a96"/>
<circle cx="526.6" cy="683.7" r="2.7" fill="#0f6a96"/>
<circle cx="528.1" cy="660" r="2.7" fill="#0f6a96"/>
<text x="430.30" y="694.60" font-size="11.5" text-anchor="middle" fill="#111" transform="rotate(-90 430.3 694.6)">IL-6 change</text>
<text x="484.30" y="749.00" font-size="11.5" text-anchor="middle" fill="#111" >cMono change</text>
<text x="465.90" y="787.60" font-size="8.6" font-weight="bold" text-anchor="middle" fill="#111" >cMono</text>
<path d="M535.15,773.30 L535.16,774.04 L535.03,774.78 L534.82,775.50 L534.59,776.21 L534.37,776.91 L534.19,777.61 L534.01,778.31 L533.82,779.01 L533.57,779.69 L533.27,780.35 L532.93,780.99 L532.58,781.62 L532.28,782.26 L532.03,782.94 L531.85,783.66 L531.70,784.42 L531.53,785.19 L531.26,785.91 L530.85,786.54 L530.28,787.04 L529.56,787.40 L528.75,787.64 L527.94,787.83 L527.19,788.06 L526.56,788.38 L526.05,788.85 L525.65,789.47 L525.29,790.19 L524.91,790.92 L524.45,791.57 L523.88,792.07 L523.20,792.37 L522.45,792.50 L521.66,792.49 L520.87,792.44 L520.11,792.41 L519.40,792.46 L518.71,792.61 L518.05,792.83 L517.39,793.08 L516.71,793.31 L516.02,793.48 L515.32,793.59 L514.61,793.66 L513.90,793.72 L513.18,793.79 L512.46,793.87 L511.73,793.96 L510.99,794.00 L510.26,793.94 L509.56,793.74 L508.89,793.40 L508.27,792.95 L507.68,792.45 L507.09,792.00 L506.48,791.66 L505.81,791.48 L505.05,791.44 L504.23,791.49 L503.37,791.54 L502.54,791.48 L501.79,791.25 L501.17,790.82 L500.70,790.20 L500.35,789.45 L500.06,788.67 L499.78,787.92 L499.43,787.28 L498.97,786.74 L498.40,786.30 L497.76,785.91 L497.10,785.50 L496.49,785.05 L495.96,784.51 L495.55,783.90 L495.23,783.23 L494.98,782.53 L494.75,781.82 L494.53,781.12 L494.31,780.43 L494.11,779.73 L493.95,779.02 L493.88,778.29 L493.88,777.56 L493.94,776.82 L494.01,776.10 L494.02,775.39 L493.93,774.70 L493.72,774.00 L493.42,773.30 L493.09,772.57 L492.84,771.83 L492.75,771.08 L492.88,770.35 L493.23,769.65 L493.75,769.02 L494.35,768.42 L494.91,767.86 L495.35,767.27 L495.61,766.64 L495.69,765.94 L495.65,765.17 L495.58,764.36 L495.57,763.56 L495.70,762.79 L496.01,762.12 L496.47,761.54 L497.04,761.05 L497.66,760.61 L498.27,760.18 L498.83,759.73 L499.34,759.24 L499.82,758.72 L500.30,758.19 L500.79,757.68 L501.32,757.20 L501.89,756.76 L502.46,756.34 L503.03,755.90 L503.58,755.42 L504.12,754.90 L504.66,754.36 L505.24,753.85 L505.88,753.44 L506.58,753.18 L507.33,753.09 L508.13,753.17 L508.92,753.34 L509.70,753.52 L510.43,753.61 L511.12,753.53 L511.79,753.27 L512.47,752.86 L513.17,752.40 L513.90,751.98 L514.65,751.72 L515.41,751.69 L516.15,751.89 L516.85,752.29 L517.52,752.79 L518.15,753.30 L518.78,753.73 L519.42,754.05 L520.10,754.23 L520.80,754.34 L521.53,754.42 L522.25,754.54 L522.95,754.74 L523.61,755.03 L524.24,755.39 L524.84,755.79 L525.44,756.19 L526.04,756.60 L526.63,757.01 L527.20,757.44 L527.73,757.94 L528.18,758.52 L528.54,759.16 L528.84,759.85 L529.11,760.54 L529.41,761.18 L529.81,761.74 L530.34,762.21 L530.98,762.63 L531.69,763.03 L532.39,763.47 L532.99,763.99 L533.40,764.62 L533.59,765.35 L533.57,766.14 L533.43,766.96 L533.25,767.75 L533.14,768.50 L533.19,769.20 L533.41,769.86 L533.78,770.51 L534.23,771.16 L534.66,771.85 L534.98,772.56Z" fill="#ccb8e8" stroke="#b99cdc" stroke-width="0.8"/>
<path transform="translate(513.9,773.3)" d="M0.2,0.1 C0,-5 2,-10.5 6.8,-10.5 C12,-10.5 16,-5 15.9,-1 C15.5,8 7,15 -2,16 C-9,16.5 -13,12 -12.9,7.4 C-12.5,2 -7,0 -3,0.5 C-1.5,0.6 -0.3,0.5 0.2,0.1 Z" fill="#ae92c8"/>
<path d="M561.6,662.5 A57,57 0 0 1 675.6,662.5" fill="none" stroke="#2a2a2a" stroke-width="1.05" stroke-dasharray="1.3,1.9"/>
<path d="M618.5,627.7 L623.5,629.5 L626.2,634.5 L625.8,640.0 L623.7,644.2 L623.1,649.0 L626.0,651.0 L632.4,652.5 L636.5,655.5 L637.8,660.0 L639.2,670.3 L642.5,678.0 L645.9,685.8 L649.0,691.5 L651.7,696.4 L656.0,699.0 L659.8,701.5 L658.0,702.5 L659.5,706.0 L658.5,710.9 L655.6,712.5 L652.0,709.5 L650.0,706.0 L645.9,699.3 L641.5,692.0 L638.2,685.8 L635.0,678.0 L632.4,671.3 L633.2,677.0 L633.4,683.8 L632.8,692.0 L633.9,701.3 L634.3,710.9 L634.0,720.0 L633.4,728.3 L632.3,738.0 L631.4,747.7 L630.5,757.0 L630.4,767.0 L631.5,771.5 L633.4,774.8 L634.3,778.2 L630.0,779.0 L625.6,779.0 L625.2,775.0 L625.6,770.0 L625.0,762.0 L624.6,755.4 L623.0,742.0 L621.7,728.3 L620.2,718.0 L618.8,710.0 L617.2,718.0 L615.9,728.3 L614.5,742.0 L613.0,755.4 L612.5,762.0 L611.8,770.0 L612.1,775.0 L611.7,779.0 L607.0,779.0 L603.4,778.2 L604.3,774.8 L606.2,771.5 L607.2,767.0 L607.1,757.0 L606.3,747.7 L605.3,738.0 L604.3,728.3 L603.6,720.0 L603.4,710.9 L603.8,701.3 L604.6,692.0 L604.3,683.8 L604.8,677.0 L605.7,671.3 L603.0,678.0 L599.5,685.8 L596.0,692.0 L591.8,699.3 L589.0,704.0 L586.0,707.1 L582.1,712.5 L579.2,710.9 L578.2,706.0 L579.5,702.5 L577.8,701.5 L581.5,699.0 L586.0,696.4 L588.5,691.5 L591.8,685.8 L595.0,678.0 L598.5,670.3 L599.8,660.0 L601.0,655.5 L605.3,652.5 L611.5,651.0 L614.0,649.0 L613.4,644.2 L611.3,640.0 L610.9,634.5 L613.5,629.5Z" fill="#ecf1fb" stroke="#8a8f98" stroke-width="0.6" stroke-linejoin="round"/>
<g><line x1="575" y1="597" x2="571.6" y2="605.6" stroke="#2e2216" stroke-width="1.2"/><line x1="584.5" y1="596.5" x2="587" y2="606" stroke="#2e2216" stroke-width="1.1"/><line x1="591" y1="597" x2="595.8" y2="604" stroke="#2e2216" stroke-width="1"/><g transform="rotate(-12 572.3 591.6)"><ellipse cx="572.3" cy="591.6" rx="7.7" ry="4.8" fill="#c79a55"/><path d="M566.3,588.4 L566.3,594.8 M568.8,587.3 L568.8,596 M571.4,586.9 L571.4,596.4 M574,586.9 L574,596.4 M576.6,587.3 L576.6,596" stroke="#3a2a16" stroke-width="1.05"/><path d="M564.6,590 L564.6,593.2" stroke="#3a2a16" stroke-width="1.2"/></g><ellipse cx="585.8" cy="591.4" rx="6.4" ry="6" fill="#c69b57"/><ellipse cx="584.5" cy="589" rx="4" ry="3" fill="#a98043"/><ellipse cx="594.6" cy="593.6" rx="3" ry="4.8" fill="#c0924c"/><ellipse cx="594.8" cy="593" rx="1.7" ry="2.9" fill="#1e1710"/><rect x="575" y="595.3" width="2.4" height="2.4" fill="#efc11e"/><path d="M597,591.2 L602.3,594.2 M597,590.6 L601.3,589.2" stroke="#333" stroke-width="0.5"/><path d="M585,588.2 C580,583 572,577 567.3,575.5 C567,578 573,585 583,589.5 Z" fill="#f4f1ea" fill-opacity="0.85" stroke="#cfc6b8" stroke-width="0.35"/><path d="M583.5,589.5 C576,586 567,583.5 562.5,584.3 C564,587 573,589.5 582.5,590.3 Z" fill="#f1ede5" fill-opacity="0.8" stroke="#cfc6b8" stroke-width="0.35"/></g>
<g><line x1="643.2" y1="596" x2="642.2" y2="603.4" stroke="#e2b21e" stroke-width="0.9"/><line x1="646.5" y1="596" x2="646.2" y2="604.8" stroke="#e2b21e" stroke-width="0.8"/><line x1="650.5" y1="595.4" x2="649.1" y2="606.3" stroke="#e2b21e" stroke-width="0.9"/><path d="M664,600 L668,603 L673.5,606.3 M667,597 L671,597.5" fill="none" stroke="#e2b21e" stroke-width="0.8"/><g transform="rotate(40 660.8 594.6)"><ellipse cx="660.8" cy="594.6" rx="8.8" ry="5.6" fill="#ebc232"/><path d="M655.3,589.6 L655.3,599.6 M658.8,589.2 L658.8,600 M662.3,589.2 L662.3,600 M665.8,590.2 L665.8,599" stroke="#2a2a2a" stroke-width="0.9"/></g><ellipse cx="647.7" cy="590.6" rx="5.9" ry="5.3" fill="#262626"/><ellipse cx="647" cy="591.2" rx="1.4" ry="1" fill="#ebc232"/><ellipse cx="650.5" cy="588.2" rx="1.6" ry="0.7" fill="#ebc232"/><ellipse cx="645" cy="587.5" rx="1.4" ry="0.6" fill="#ebc232"/><ellipse cx="639.6" cy="593" rx="3" ry="5.1" fill="#262626"/><ellipse cx="639.3" cy="595" rx="1.8" ry="2.8" fill="#ebc232"/><path d="M637.8,590.2 L628.3,590.2 M637.6,591.4 C633.5,592.4 631.2,595 630.5,598.3" fill="none" stroke="#1e1e1e" stroke-width="0.65"/><path d="M650.8,588.6 C656,582 664,577 670.6,576.4 C668.5,580.5 660,586.5 652.5,590.2 Z" fill="#d8c8a6" fill-opacity="0.6" stroke="#cdbf9f" stroke-width="0.3"/></g>
</svg></body></html>
